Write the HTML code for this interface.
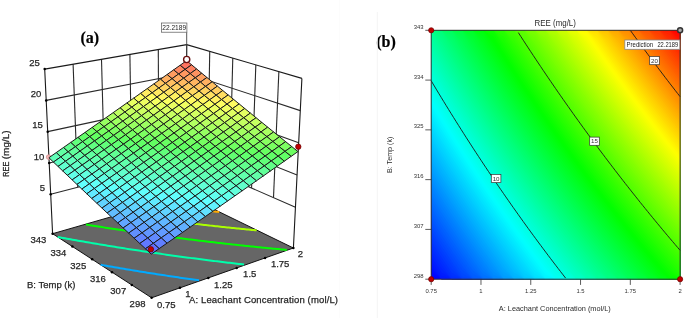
<!DOCTYPE html>
<html><head><meta charset="utf-8"><style>
html,body{margin:0;padding:0;background:#fff;}
body{width:685px;height:318px;overflow:hidden;font-family:"Liberation Sans",sans-serif;}
svg{display:block;filter:blur(0.4px);}
</style></head><body>
<svg width="685" height="318" viewBox="0 0 685 318">
<rect width="685" height="318" fill="#fff"/>
<g stroke="#2a2a2a" stroke-width="1.1" fill="none">
<path d="M77.72,187.21L73.1,64.2"/>
<path d="M207.72,168.85L209.74,51.36"/>
<path d="M104.74,180.21L101.5,59.3"/>
<path d="M229.65,178.46L232.78,58.12"/>
<path d="M131.75,173.22L129.9,54.4"/>
<path d="M251.58,188.07L255.82,64.88"/>
<path d="M158.77,166.23L158.3,49.5"/>
<path d="M273.51,197.69L278.86,71.64"/>
<path d="M50.7,194.2L185.79,159.23L295.44,207.3"/>
<path d="M49.2,162.93L186.02,130.57L297.05,175.08"/>
<path d="M47.7,131.65L186.24,101.92L298.67,142.85"/>
<path d="M46.2,100.38L186.47,73.26L300.28,110.63"/>
</g>
<path d="M44.7,69.1L186.7,44.6L301.9,78.4 M52.6,233.7L44.7,69.1 M185.5,195.43L186.7,44.6 M293.4,248L301.9,78.4" stroke="#1a1a1a" stroke-width="1.1" fill="none"/>
<path d="M52.6,233.7L151.6,297.8L293.4,248L185.5,195.43Z" fill="#666" stroke="#111" stroke-width="1" stroke-linejoin="round"/>
<path d="M100.64,264.79L102.59,265.14L104.53,265.48L106.47,265.82L108.42,266.17L110.36,266.5L112.3,266.84L114.24,267.18L116.18,267.51L118.12,267.84L120.06,268.18L122,268.5L123.94,268.83L125.88,269.16L127.81,269.48L129.75,269.81L131.69,270.13L133.62,270.45L135.56,270.77L137.5,271.08L139.43,271.4L141.36,271.71L143.3,272.02L145.23,272.33L147.16,272.64L149.09,272.95L151.02,273.25L152.95,273.55L154.88,273.86L156.81,274.16L158.74,274.46L160.67,274.75L162.59,275.05L164.52,275.34L166.44,275.63L168.37,275.93L170.29,276.21L172.21,276.5L174.13,276.79L176.05,277.07L177.97,277.36L179.89,277.64L181.81,277.92L183.73,278.19L185.64,278.47L187.56,278.75L189.47,279.02L191.39,279.29L193.3,279.56L195.21,279.83L197.12,280.1L199.03,280.36" stroke="#00aaff" stroke-width="2" fill="none"/>
<path d="M57.67,236.99L59.52,237.33L61.37,237.67L63.22,238L65.07,238.34L66.92,238.67L68.76,239L70.61,239.34L72.46,239.67L74.31,239.99L76.16,240.32L78,240.65L79.85,240.97L81.7,241.29L83.55,241.61L85.39,241.93L87.24,242.25L89.09,242.57L90.93,242.88L92.78,243.2L94.63,243.51L96.47,243.82L98.32,244.13L100.16,244.44L102.01,244.75L103.85,245.05L105.7,245.36L107.54,245.66L109.38,245.96L111.23,246.26L113.07,246.56L114.91,246.86L116.76,247.16L118.6,247.45L120.44,247.75L122.28,248.04L124.12,248.33L125.96,248.62L127.8,248.91L129.64,249.19L131.48,249.48L133.31,249.76L135.15,250.04L136.99,250.33L138.83,250.61L140.66,250.88L142.5,251.16L144.33,251.44L146.17,251.71L148,251.98L149.83,252.25L151.67,252.52L153.5,252.79L155.33,253.06L157.16,253.33L158.99,253.59L160.82,253.85L162.65,254.12L164.48,254.38L166.3,254.64L168.13,254.89L169.96,255.15L171.78,255.41L173.61,255.66L175.43,255.91L177.25,256.16L179.07,256.41L180.9,256.66L182.72,256.91L184.54,257.15L186.36,257.4L188.17,257.64L189.99,257.88L191.81,258.12L193.62,258.36L195.44,258.6L197.25,258.84L199.07,259.07L200.88,259.31L202.69,259.54L204.5,259.77L206.31,260L208.12,260.23L209.93,260.45L211.73,260.68L213.54,260.9L215.34,261.13L217.15,261.35L218.95,261.57L220.75,261.79L222.56,262.01L224.36,262.22L226.15,262.44L227.95,262.65L229.75,262.86L231.55,263.08L233.34,263.29L235.14,263.49L236.93,263.7L238.72,263.91L240.51,264.11L242.3,264.32L244.09,264.52" stroke="#00ffaa" stroke-width="2" fill="none"/>
<path d="M86.06,224.56L87.82,224.85L89.58,225.13L91.34,225.42L93.11,225.7L94.87,225.98L96.63,226.26L98.39,226.54L100.15,226.82L101.91,227.09L103.67,227.37L105.43,227.64L107.19,227.91L108.95,228.19L110.71,228.46L112.47,228.73L114.23,228.99L115.99,229.26L117.74,229.53L119.5,229.79L121.26,230.05L123.02,230.32L124.77,230.58L126.53,230.84L128.28,231.09L130.04,231.35L131.79,231.61L133.55,231.86L135.3,232.12L137.05,232.37L138.81,232.62L140.56,232.87L142.31,233.12L144.06,233.37L145.81,233.61L147.56,233.86L149.31,234.1L151.06,234.34L152.81,234.59L154.56,234.83L156.3,235.07L158.05,235.3L159.8,235.54L161.54,235.78L163.29,236.01L165.03,236.25L166.78,236.48L168.52,236.71L170.26,236.94L172,237.17L173.75,237.4L175.49,237.62L177.23,237.85L178.97,238.07L180.7,238.29L182.44,238.52L184.18,238.74L185.92,238.96L187.65,239.17L189.39,239.39L191.12,239.61L192.85,239.82L194.59,240.04L196.32,240.25L198.05,240.46L199.78,240.67L201.51,240.88L203.24,241.09L204.97,241.29L206.69,241.5L208.42,241.7L210.14,241.91L211.87,242.11L213.59,242.31L215.32,242.51L217.04,242.71L218.76,242.91L220.48,243.1L222.2,243.3L223.92,243.49L225.64,243.69L227.35,243.88L229.07,244.07L230.78,244.26L232.5,244.45L234.21,244.63L235.92,244.82L237.63,245.01L239.34,245.19L241.05,245.37L242.76,245.55L244.47,245.73L246.17,245.91L247.88,246.09L249.58,246.27L251.29,246.45L252.99,246.62L254.69,246.8L256.39,246.97L258.09,247.14L259.79,247.31L261.49,247.48L263.18,247.65L264.88,247.82L266.57,247.98L268.26,248.15L269.96,248.31L271.65,248.48L273.34,248.64L275.03,248.8L276.71,248.96L278.4,249.12L280.08,249.28L281.77,249.43L283.45,249.59L285.13,249.74L286.81,249.9" stroke="#00ff00" stroke-width="2" fill="none"/>
<path d="M120.47,214.25L122.16,214.48L123.84,214.72L125.52,214.96L127.21,215.19L128.89,215.43L130.57,215.66L132.25,215.89L133.93,216.12L135.62,216.35L137.3,216.58L138.98,216.81L140.66,217.04L142.33,217.26L144.01,217.49L145.69,217.71L147.37,217.93L149.05,218.15L150.72,218.37L152.4,218.59L154.07,218.81L155.75,219.03L157.42,219.25L159.1,219.46L160.77,219.68L162.44,219.89L164.12,220.1L165.79,220.31L167.46,220.52L169.13,220.73L170.8,220.94L172.47,221.15L174.14,221.35L175.81,221.56L177.47,221.76L179.14,221.96L180.81,222.17L182.47,222.37L184.14,222.57L185.8,222.77L187.47,222.96L189.13,223.16L190.79,223.36L192.45,223.55L194.12,223.75L195.78,223.94L197.44,224.13L199.09,224.32L200.75,224.51L202.41,224.7L204.07,224.89L205.72,225.07L207.38,225.26L209.03,225.44L210.69,225.63L212.34,225.81L213.99,225.99L215.64,226.17L217.29,226.35L218.94,226.53L220.59,226.71L222.24,226.89L223.89,227.06L225.54,227.24L227.18,227.41L228.83,227.58L230.47,227.76L232.11,227.93L233.76,228.1L235.4,228.26L237.04,228.43L238.68,228.6L240.32,228.77L241.95,228.93L243.59,229.09L245.23,229.26L246.86,229.42L248.5,229.58L250.13,229.74L251.76,229.9L253.4,230.06L255.03,230.22L256.66,230.37" stroke="#aaff00" stroke-width="2" fill="none"/>
<path d="M155.21,204.76L156.82,204.96L158.43,205.16L160.04,205.35L161.65,205.55L163.26,205.74L164.87,205.94L166.48,206.13L168.09,206.32L169.69,206.51L171.3,206.7L172.9,206.89L174.51,207.08L176.11,207.26L177.72,207.45L179.32,207.64L180.92,207.82L182.53,208L184.13,208.19L185.73,208.37L187.33,208.55L188.93,208.73L190.53,208.91L192.13,209.09L193.73,209.26L195.32,209.44L196.92,209.62L198.52,209.79L200.11,209.96L201.71,210.14L203.3,210.31L204.89,210.48L206.49,210.65L208.08,210.82L209.67,210.99L211.26,211.16L212.85,211.32L214.44,211.49L216.03,211.65L217.62,211.82L219.2,211.98" stroke="#ffaa00" stroke-width="2" fill="none"/>
<circle cx="48.6" cy="157.1" r="2.3" fill="#f4b4b4" stroke="#d08888" stroke-width="0.7"/>
<g stroke="#1a1a1a" stroke-width="1.0" stroke-linejoin="round">
<path d="M185.12,69.4L191.6,64.8L186.59,60.65L180.14,65.24Z" fill="#ff7361"/>
<path d="M178.6,74.03L185.12,69.4L180.14,65.24L173.63,69.86Z" fill="#ff8761"/>
<path d="M190.16,73.6L196.65,68.99L191.6,64.8L185.12,69.4Z" fill="#ff8261"/>
<path d="M183.62,78.23L190.16,73.6L185.12,69.4L178.6,74.03Z" fill="#ff9761"/>
<path d="M172.04,78.68L178.6,74.03L173.63,69.86L167.09,74.51Z" fill="#ff9c61"/>
<path d="M195.25,77.83L201.76,73.22L196.65,68.99L190.16,73.6Z" fill="#ff9261"/>
<path d="M165.43,83.36L172.04,78.68L167.09,74.51L160.5,79.18Z" fill="#ffb061"/>
<path d="M177.04,82.89L183.62,78.23L178.6,74.03L172.04,78.68Z" fill="#ffab61"/>
<path d="M188.69,82.47L195.25,77.83L190.16,73.6L183.62,78.23Z" fill="#ffa661"/>
<path d="M200.4,82.1L206.93,77.48L201.76,73.22L195.25,77.83Z" fill="#ffa161"/>
<path d="M170.41,87.58L177.04,82.89L172.04,78.68L165.43,83.36Z" fill="#ffbf61"/>
<path d="M193.82,86.75L200.4,82.1L195.25,77.83L188.69,82.47Z" fill="#ffb561"/>
<path d="M158.78,88.06L165.43,83.36L160.5,79.18L153.87,83.88Z" fill="#ffc561"/>
<path d="M182.09,87.14L188.69,82.47L183.62,78.23L177.04,82.89Z" fill="#ffba61"/>
<path d="M205.6,86.42L212.15,81.79L206.93,77.48L200.4,82.1Z" fill="#ffb061"/>
<path d="M152.09,92.79L158.78,88.06L153.87,83.88L147.2,88.6Z" fill="#ffd961"/>
<path d="M163.74,92.29L170.41,87.58L165.43,83.36L158.78,88.06Z" fill="#ffd461"/>
<path d="M175.45,91.83L182.09,87.14L177.04,82.89L170.41,87.58Z" fill="#ffce61"/>
<path d="M187.2,91.43L193.82,86.75L188.69,82.47L182.09,87.14Z" fill="#ffc961"/>
<path d="M199.01,91.07L205.6,86.42L200.4,82.1L193.82,86.75Z" fill="#ffc461"/>
<path d="M210.86,90.77L217.43,86.13L212.15,81.79L205.6,86.42Z" fill="#ffc061"/>
<path d="M145.35,97.55L152.09,92.79L147.2,88.6L140.48,93.35Z" fill="#ffee61"/>
<path d="M157.03,97.03L163.74,92.29L158.78,88.06L152.09,92.79Z" fill="#ffe861"/>
<path d="M168.76,96.55L175.45,91.83L170.41,87.58L163.74,92.29Z" fill="#ffe261"/>
<path d="M180.54,96.13L187.2,91.43L182.09,87.14L175.45,91.83Z" fill="#ffdd61"/>
<path d="M192.37,95.76L199.01,91.07L193.82,86.75L187.2,91.43Z" fill="#ffd861"/>
<path d="M204.25,95.43L210.86,90.77L205.6,86.42L199.01,91.07Z" fill="#ffd361"/>
<path d="M216.18,95.16L222.77,90.52L217.43,86.13L210.86,90.77Z" fill="#ffcf61"/>
<path d="M150.27,101.8L157.03,97.03L152.09,92.79L145.35,97.55Z" fill="#fffc61"/>
<path d="M173.83,100.86L180.54,96.13L175.45,91.83L168.76,96.55Z" fill="#fff161"/>
<path d="M185.69,100.47L192.37,95.76L187.2,91.43L180.54,96.13Z" fill="#ffec61"/>
<path d="M209.56,99.84L216.18,95.16L210.86,90.77L204.25,95.43Z" fill="#ffe261"/>
<path d="M138.56,102.34L145.35,97.55L140.48,93.35L133.72,98.13Z" fill="#fcff61"/>
<path d="M162.02,101.3L168.76,96.55L163.74,92.29L157.03,97.03Z" fill="#fff661"/>
<path d="M197.6,100.13L204.25,95.43L199.01,91.07L192.37,95.76Z" fill="#ffe761"/>
<path d="M221.56,99.6L228.16,94.94L222.77,90.52L216.18,95.16Z" fill="#ffde61"/>
<path d="M131.73,107.16L138.56,102.34L133.72,98.13L126.91,102.94Z" fill="#e8ff61"/>
<path d="M143.46,106.59L150.27,101.8L145.35,97.55L138.56,102.34Z" fill="#eeff61"/>
<path d="M155.24,106.08L162.02,101.3L157.03,97.03L150.27,101.8Z" fill="#f4ff61"/>
<path d="M167.07,105.62L173.83,100.86L168.76,96.55L162.02,101.3Z" fill="#f9ff61"/>
<path d="M178.96,105.21L185.69,100.47L180.54,96.13L173.83,100.86Z" fill="#ffff61"/>
<path d="M190.89,104.85L197.6,100.13L192.37,95.76L185.69,100.47Z" fill="#fffa61"/>
<path d="M202.88,104.54L209.56,99.84L204.25,95.43L197.6,100.13Z" fill="#fff661"/>
<path d="M214.92,104.28L221.56,99.6L216.18,95.16L209.56,99.84Z" fill="#fff161"/>
<path d="M227,104.08L233.62,99.41L228.16,94.94L221.56,99.6Z" fill="#ffed61"/>
<path d="M136.61,111.42L143.46,106.59L138.56,102.34L131.73,107.16Z" fill="#daff61"/>
<path d="M160.27,110.4L167.07,105.62L162.02,101.3L155.24,106.08Z" fill="#e6ff61"/>
<path d="M196.16,109.27L202.88,104.54L197.6,100.13L190.89,104.85Z" fill="#f5ff61"/>
<path d="M220.34,108.77L227,104.08L221.56,99.6L214.92,104.28Z" fill="#feff61"/>
<path d="M124.86,112L131.73,107.16L126.91,102.94L120.06,107.77Z" fill="#d3ff61"/>
<path d="M148.41,110.89L155.24,106.08L150.27,101.8L143.46,106.59Z" fill="#e0ff61"/>
<path d="M172.18,109.97L178.96,105.21L173.83,100.86L167.07,105.62Z" fill="#ebff61"/>
<path d="M184.15,109.59L190.89,104.85L185.69,100.47L178.96,105.21Z" fill="#f0ff61"/>
<path d="M208.22,108.99L214.92,104.28L209.56,99.84L202.88,104.54Z" fill="#faff61"/>
<path d="M232.51,108.6L239.14,103.92L233.62,99.41L227,104.08Z" fill="#fffc61"/>
<path d="M117.93,116.87L124.86,112L120.06,107.77L113.16,112.63Z" fill="#bfff61"/>
<path d="M129.71,116.27L136.61,111.42L131.73,107.16L124.86,112Z" fill="#c6ff61"/>
<path d="M141.54,115.72L148.41,110.89L143.46,106.59L136.61,111.42Z" fill="#ccff61"/>
<path d="M153.42,115.22L160.27,110.4L155.24,106.08L148.41,110.89Z" fill="#d2ff61"/>
<path d="M165.36,114.77L172.18,109.97L167.07,105.62L160.27,110.4Z" fill="#d8ff61"/>
<path d="M177.35,114.37L184.15,109.59L178.96,105.21L172.18,109.97Z" fill="#ddff61"/>
<path d="M189.39,114.03L196.16,109.27L190.89,104.85L184.15,109.59Z" fill="#e2ff61"/>
<path d="M201.48,113.73L208.22,108.99L202.88,104.54L196.16,109.27Z" fill="#e7ff61"/>
<path d="M213.63,113.49L220.34,108.77L214.92,104.28L208.22,108.99Z" fill="#ebff61"/>
<path d="M225.82,113.3L232.51,108.6L227,104.08L220.34,108.77Z" fill="#efff61"/>
<path d="M238.07,113.16L244.72,108.48L239.14,103.92L232.51,108.6Z" fill="#f3ff61"/>
<path d="M110.96,121.77L117.93,116.87L113.16,112.63L106.21,117.52Z" fill="#abff61"/>
<path d="M122.76,121.15L129.71,116.27L124.86,112L117.93,116.87Z" fill="#b2ff61"/>
<path d="M134.62,120.58L141.54,115.72L136.61,111.42L129.71,116.27Z" fill="#b8ff61"/>
<path d="M146.53,120.06L153.42,115.22L148.41,110.89L141.54,115.72Z" fill="#beff61"/>
<path d="M158.49,119.6L165.36,114.77L160.27,110.4L153.42,115.22Z" fill="#c4ff61"/>
<path d="M170.51,119.18L177.35,114.37L172.18,109.97L165.36,114.77Z" fill="#c9ff61"/>
<path d="M182.58,118.81L189.39,114.03L184.15,109.59L177.35,114.37Z" fill="#cfff61"/>
<path d="M194.7,118.5L201.48,113.73L196.16,109.27L189.39,114.03Z" fill="#d3ff61"/>
<path d="M206.87,118.24L213.63,113.49L208.22,108.99L201.48,113.73Z" fill="#d8ff61"/>
<path d="M219.1,118.03L225.82,113.3L220.34,108.77L213.63,113.49Z" fill="#dcff61"/>
<path d="M231.37,117.87L238.07,113.16L232.51,108.6L225.82,113.3Z" fill="#e0ff61"/>
<path d="M243.7,117.77L250.37,113.08L244.72,108.48L238.07,113.16Z" fill="#e4ff61"/>
<path d="M115.77,126.06L122.76,121.15L117.93,116.87L110.96,121.77Z" fill="#9eff61"/>
<path d="M127.65,125.47L134.62,120.58L129.71,116.27L122.76,121.15Z" fill="#a4ff61"/>
<path d="M139.58,124.94L146.53,120.06L141.54,115.72L134.62,120.58Z" fill="#aaff61"/>
<path d="M151.57,124.45L158.49,119.6L153.42,115.22L146.53,120.06Z" fill="#b0ff61"/>
<path d="M175.71,123.63L182.58,118.81L177.35,114.37L170.51,119.18Z" fill="#bbff61"/>
<path d="M200.06,123.02L206.87,118.24L201.48,113.73L194.7,118.5Z" fill="#c5ff61"/>
<path d="M212.32,122.79L219.1,118.03L213.63,113.49L206.87,118.24Z" fill="#caff61"/>
<path d="M224.63,122.62L231.37,117.87L225.82,113.3L219.1,118.03Z" fill="#ceff61"/>
<path d="M236.98,122.49L243.7,117.77L238.07,113.16L231.37,117.87Z" fill="#d1ff61"/>
<path d="M103.94,126.7L110.96,121.77L106.21,117.52L99.22,122.44Z" fill="#97ff61"/>
<path d="M163.61,124.01L170.51,119.18L165.36,114.77L158.49,119.6Z" fill="#b6ff61"/>
<path d="M187.86,123.3L194.7,118.5L189.39,114.03L182.58,118.81Z" fill="#c0ff61"/>
<path d="M249.39,122.43L256.08,117.72L250.37,113.08L243.7,117.77Z" fill="#d5ff61"/>
<path d="M108.73,131L115.77,126.06L110.96,121.77L103.94,126.7Z" fill="#8aff61"/>
<path d="M120.63,130.4L127.65,125.47L122.76,121.15L115.77,126.06Z" fill="#90ff61"/>
<path d="M132.59,129.84L139.58,124.94L134.62,120.58L127.65,125.47Z" fill="#97ff61"/>
<path d="M144.6,129.33L151.57,124.45L146.53,120.06L139.58,124.94Z" fill="#9dff61"/>
<path d="M156.67,128.88L163.61,124.01L158.49,119.6L151.57,124.45Z" fill="#a3ff61"/>
<path d="M168.8,128.48L175.71,123.63L170.51,119.18L163.61,124.01Z" fill="#a8ff61"/>
<path d="M180.98,128.12L187.86,123.3L182.58,118.81L175.71,123.63Z" fill="#adff61"/>
<path d="M193.21,127.83L200.06,123.02L194.7,118.5L187.86,123.3Z" fill="#b2ff61"/>
<path d="M205.49,127.58L212.32,122.79L206.87,118.24L200.06,123.02Z" fill="#b7ff61"/>
<path d="M217.83,127.39L224.63,122.62L219.1,118.03L212.32,122.79Z" fill="#bbff61"/>
<path d="M230.22,127.25L236.98,122.49L231.37,117.87L224.63,122.62Z" fill="#bfff61"/>
<path d="M242.66,127.16L249.39,122.43L243.7,117.77L236.98,122.49Z" fill="#c3ff61"/>
<path d="M255.15,127.13L261.85,122.41L256.08,117.72L249.39,122.43Z" fill="#c6ff61"/>
<path d="M96.88,131.66L103.94,126.7L99.22,122.44L92.17,127.39Z" fill="#82ff61"/>
<path d="M125.55,134.77L132.59,129.84L127.65,125.47L120.63,130.4Z" fill="#83ff61"/>
<path d="M161.84,133.35L168.8,128.48L163.61,124.01L156.67,128.88Z" fill="#95ff61"/>
<path d="M186.3,132.66L193.21,127.83L187.86,123.3L180.98,128.12Z" fill="#9fff61"/>
<path d="M223.41,132.03L230.22,127.25L224.63,122.62L217.83,127.39Z" fill="#adff61"/>
<path d="M101.63,135.97L108.73,131L103.94,126.7L96.88,131.66Z" fill="#76ff61"/>
<path d="M113.56,135.35L120.63,130.4L115.77,126.06L108.73,131Z" fill="#7cff61"/>
<path d="M137.59,134.25L144.6,129.33L139.58,124.94L132.59,129.84Z" fill="#89ff61"/>
<path d="M149.68,133.77L156.67,128.88L151.57,124.45L144.6,129.33Z" fill="#8fff61"/>
<path d="M174.04,132.98L180.98,128.12L175.71,123.63L168.8,128.48Z" fill="#9aff61"/>
<path d="M198.62,132.4L205.49,127.58L200.06,123.02L193.21,127.83Z" fill="#a4ff61"/>
<path d="M210.98,132.19L217.83,127.39L212.32,122.79L205.49,127.58Z" fill="#a9ff61"/>
<path d="M235.88,131.92L242.66,127.16L236.98,122.49L230.22,127.25Z" fill="#b0ff61"/>
<path d="M248.4,131.87L255.15,127.13L249.39,122.43L242.66,127.16Z" fill="#b4ff61"/>
<path d="M260.98,131.88L267.7,127.15L261.85,122.41L255.15,127.13Z" fill="#b7ff61"/>
<path d="M89.76,136.65L96.88,131.66L92.17,127.39L85.08,132.37Z" fill="#6eff61"/>
<path d="M106.45,140.33L113.56,135.35L108.73,131L101.63,135.97Z" fill="#69ff61"/>
<path d="M118.46,139.73L125.55,134.77L120.63,130.4L113.56,135.35Z" fill="#6fff61"/>
<path d="M130.52,139.19L137.59,134.25L132.59,129.84L125.55,134.77Z" fill="#76ff61"/>
<path d="M142.65,138.7L149.68,133.77L144.6,129.33L137.59,134.25Z" fill="#7cff61"/>
<path d="M154.82,138.26L161.84,133.35L156.67,128.88L149.68,133.77Z" fill="#82ff61"/>
<path d="M167.06,137.87L174.04,132.98L168.8,128.48L161.84,133.35Z" fill="#87ff61"/>
<path d="M179.35,137.53L186.3,132.66L180.98,128.12L174.04,132.98Z" fill="#8dff61"/>
<path d="M191.69,137.25L198.62,132.4L193.21,127.83L186.3,132.66Z" fill="#92ff61"/>
<path d="M204.09,137.02L210.98,132.19L205.49,127.58L198.62,132.4Z" fill="#96ff61"/>
<path d="M216.54,136.84L223.41,132.03L217.83,127.39L210.98,132.19Z" fill="#9aff61"/>
<path d="M229.05,136.72L235.88,131.92L230.22,127.25L223.41,132.03Z" fill="#9eff61"/>
<path d="M241.6,136.65L248.4,131.87L242.66,127.16L235.88,131.92Z" fill="#a2ff61"/>
<path d="M254.21,136.63L260.98,131.88L255.15,127.13L248.4,131.87Z" fill="#a5ff61"/>
<path d="M266.88,136.67L273.61,131.94L267.7,127.15L260.98,131.88Z" fill="#a8ff61"/>
<path d="M82.6,141.67L89.76,136.65L85.08,132.37L77.95,137.37Z" fill="#61ff68"/>
<path d="M94.49,140.97L101.63,135.97L96.88,131.66L89.76,136.65Z" fill="#62ff61"/>
<path d="M111.31,144.73L118.46,139.73L113.56,135.35L106.45,140.33Z" fill="#61ff66"/>
<path d="M123.41,144.17L130.52,139.19L125.55,134.77L118.46,139.73Z" fill="#62ff61"/>
<path d="M135.56,143.65L142.65,138.7L137.59,134.25L130.52,139.19Z" fill="#69ff61"/>
<path d="M147.76,143.2L154.82,138.26L149.68,133.77L142.65,138.7Z" fill="#6fff61"/>
<path d="M160.02,142.79L167.06,137.87L161.84,133.35L154.82,138.26Z" fill="#74ff61"/>
<path d="M172.34,142.43L179.35,137.53L174.04,132.98L167.06,137.87Z" fill="#7aff61"/>
<path d="M184.72,142.13L191.69,137.25L186.3,132.66L179.35,137.53Z" fill="#7fff61"/>
<path d="M197.14,141.88L204.09,137.02L198.62,132.4L191.69,137.25Z" fill="#84ff61"/>
<path d="M209.63,141.69L216.54,136.84L210.98,132.19L204.09,137.02Z" fill="#88ff61"/>
<path d="M222.16,141.54L229.05,136.72L223.41,132.03L216.54,136.84Z" fill="#8cff61"/>
<path d="M234.75,141.46L241.6,136.65L235.88,131.92L229.05,136.72Z" fill="#90ff61"/>
<path d="M247.4,141.42L254.21,136.63L248.4,131.87L241.6,136.65Z" fill="#93ff61"/>
<path d="M260.09,141.44L266.88,136.67L260.98,131.88L254.21,136.63Z" fill="#97ff61"/>
<path d="M87.3,146L94.49,140.97L89.76,136.65L82.6,141.67Z" fill="#61ff74"/>
<path d="M99.28,145.34L106.45,140.33L101.63,135.97L94.49,140.97Z" fill="#61ff6d"/>
<path d="M272.84,141.52L279.59,136.77L273.61,131.94L266.88,136.67Z" fill="#99ff61"/>
<path d="M75.38,146.71L82.6,141.67L77.95,137.37L70.76,142.41Z" fill="#61ff7c"/>
<path d="M104.12,149.75L111.31,144.73L106.45,140.33L99.28,145.34Z" fill="#61ff7a"/>
<path d="M116.24,149.17L123.41,144.17L118.46,139.73L111.31,144.73Z" fill="#61ff73"/>
<path d="M140.65,148.16L147.76,143.2L142.65,138.7L135.56,143.65Z" fill="#61ff66"/>
<path d="M152.94,147.74L160.02,142.79L154.82,138.26L147.76,143.2Z" fill="#62ff61"/>
<path d="M165.29,147.36L172.34,142.43L167.06,137.87L160.02,142.79Z" fill="#67ff61"/>
<path d="M177.69,147.04L184.72,142.13L179.35,137.53L172.34,142.43Z" fill="#6cff61"/>
<path d="M190.15,146.78L197.14,141.88L191.69,137.25L184.72,142.13Z" fill="#71ff61"/>
<path d="M202.66,146.56L209.63,141.69L204.09,137.02L197.14,141.88Z" fill="#76ff61"/>
<path d="M227.85,146.29L234.75,141.46L229.05,136.72L222.16,141.54Z" fill="#7eff61"/>
<path d="M240.53,146.24L247.4,141.42L241.6,136.65L234.75,141.46Z" fill="#82ff61"/>
<path d="M253.26,146.24L260.09,141.44L254.21,136.63L247.4,141.42Z" fill="#85ff61"/>
<path d="M266.04,146.3L272.84,141.52L266.88,136.67L260.09,141.44Z" fill="#88ff61"/>
<path d="M278.88,146.42L285.64,141.65L279.59,136.77L272.84,141.52Z" fill="#8bff61"/>
<path d="M68.11,151.79L75.38,146.71L70.76,142.41L63.52,147.48Z" fill="#61ff90"/>
<path d="M80.06,151.06L87.3,146L82.6,141.67L75.38,146.71Z" fill="#61ff88"/>
<path d="M92.06,150.38L99.28,145.34L94.49,140.97L87.3,146Z" fill="#61ff81"/>
<path d="M128.41,148.64L135.56,143.65L130.52,139.19L123.41,144.17Z" fill="#61ff6c"/>
<path d="M215.23,146.4L222.16,141.54L216.54,136.84L209.63,141.69Z" fill="#7aff61"/>
<path d="M109.02,154.21L116.24,149.17L111.31,144.73L104.12,149.75Z" fill="#61ff86"/>
<path d="M121.22,153.66L128.41,148.64L123.41,144.17L116.24,149.17Z" fill="#61ff7f"/>
<path d="M133.48,153.16L140.65,148.16L135.56,143.65L128.41,148.64Z" fill="#61ff79"/>
<path d="M145.8,152.72L152.94,147.74L147.76,143.2L140.65,148.16Z" fill="#61ff73"/>
<path d="M158.18,152.33L165.29,147.36L160.02,142.79L152.94,147.74Z" fill="#61ff6d"/>
<path d="M170.61,151.99L177.69,147.04L172.34,142.43L165.29,147.36Z" fill="#61ff68"/>
<path d="M183.1,151.7L190.15,146.78L184.72,142.13L177.69,147.04Z" fill="#61ff63"/>
<path d="M195.64,151.47L202.66,146.56L197.14,141.88L190.15,146.78Z" fill="#64ff61"/>
<path d="M208.24,151.29L215.23,146.4L209.63,141.69L202.66,146.56Z" fill="#68ff61"/>
<path d="M220.9,151.16L227.85,146.29L222.16,141.54L215.23,146.4Z" fill="#6cff61"/>
<path d="M233.61,151.09L240.53,146.24L234.75,141.46L227.85,146.29Z" fill="#70ff61"/>
<path d="M246.37,151.08L253.26,146.24L247.4,141.42L240.53,146.24Z" fill="#73ff61"/>
<path d="M259.19,151.12L266.04,146.3L260.09,141.44L253.26,146.24Z" fill="#77ff61"/>
<path d="M272.06,151.21L278.88,146.42L272.84,141.52L266.04,146.3Z" fill="#79ff61"/>
<path d="M284.99,151.36L291.77,146.59L285.64,141.65L278.88,146.42Z" fill="#7cff61"/>
<path d="M60.8,156.91L68.11,151.79L63.52,147.48L56.23,152.58Z" fill="#61ffa4"/>
<path d="M72.76,156.16L80.06,151.06L75.38,146.71L68.11,151.79Z" fill="#61ff9c"/>
<path d="M84.79,155.46L92.06,150.38L87.3,146L80.06,151.06Z" fill="#61ff94"/>
<path d="M96.88,154.81L104.12,149.75L99.28,145.34L92.06,150.38Z" fill="#61ff8d"/>
<path d="M151.02,157.32L158.18,152.33L152.94,147.74L145.8,152.72Z" fill="#61ff80"/>
<path d="M188.57,156.41L195.64,151.47L190.15,146.78L183.1,151.7Z" fill="#61ff70"/>
<path d="M252.29,155.96L259.19,151.12L253.26,146.24L246.37,151.08Z" fill="#65ff61"/>
<path d="M278.16,156.17L284.99,151.36L278.88,146.42L272.06,151.21Z" fill="#6bff61"/>
<path d="M65.42,161.28L72.76,156.16L68.11,151.79L60.8,156.91Z" fill="#61ffb0"/>
<path d="M89.58,159.89L96.88,154.81L92.06,150.38L84.79,155.46Z" fill="#61ffa1"/>
<path d="M101.75,159.28L109.02,154.21L104.12,149.75L96.88,154.81Z" fill="#61ff9a"/>
<path d="M113.98,158.71L121.22,153.66L116.24,149.17L109.02,154.21Z" fill="#61ff93"/>
<path d="M126.27,158.2L133.48,153.16L128.41,148.64L121.22,153.66Z" fill="#61ff8c"/>
<path d="M138.61,157.73L145.8,152.72L140.65,148.16L133.48,153.16Z" fill="#61ff86"/>
<path d="M163.48,156.96L170.61,151.99L165.29,147.36L158.18,152.33Z" fill="#61ff7b"/>
<path d="M176,156.66L183.1,151.7L177.69,147.04L170.61,151.99Z" fill="#61ff75"/>
<path d="M201.21,156.21L208.24,151.29L202.66,146.56L195.64,151.47Z" fill="#61ff6c"/>
<path d="M213.89,156.07L220.9,151.16L215.23,146.4L208.24,151.29Z" fill="#61ff67"/>
<path d="M226.64,155.98L233.61,151.09L227.85,146.29L220.9,151.16Z" fill="#61ff64"/>
<path d="M239.44,155.94L246.37,151.08L240.53,146.24L233.61,151.09Z" fill="#62ff61"/>
<path d="M265.2,156.04L272.06,151.21L266.04,146.3L259.19,151.12Z" fill="#68ff61"/>
<path d="M291.17,156.36L297.96,151.57L291.77,146.59L284.99,151.36Z" fill="#6dff61"/>
<path d="M53.43,162.05L60.8,156.91L56.23,152.58L48.89,157.7Z" fill="#61ffb8"/>
<path d="M77.47,160.56L84.79,155.46L80.06,151.06L72.76,156.16Z" fill="#61ffa8"/>
<path d="M119,163.26L126.27,158.2L121.22,153.66L113.98,158.71Z" fill="#61ff9f"/>
<path d="M143.8,162.35L151.02,157.32L145.8,152.72L138.61,157.73Z" fill="#61ff93"/>
<path d="M156.29,161.97L163.48,156.96L158.18,152.33L151.02,157.32Z" fill="#61ff8d"/>
<path d="M168.84,161.65L176,156.66L170.61,151.99L163.48,156.96Z" fill="#61ff88"/>
<path d="M181.45,161.38L188.57,156.41L183.1,151.7L176,156.66Z" fill="#61ff83"/>
<path d="M194.11,161.16L201.21,156.21L195.64,151.47L188.57,156.41Z" fill="#61ff7e"/>
<path d="M219.61,160.89L226.64,155.98L220.9,151.16L213.89,156.07Z" fill="#61ff75"/>
<path d="M245.33,160.84L252.29,155.96L246.37,151.08L239.44,155.94Z" fill="#61ff6e"/>
<path d="M258.28,160.9L265.2,156.04L259.19,151.12L252.29,155.96Z" fill="#61ff6b"/>
<path d="M271.27,161.01L278.16,156.17L272.06,151.21L265.2,156.04Z" fill="#61ff68"/>
<path d="M284.33,161.18L291.17,156.36L284.99,151.36L278.16,156.17Z" fill="#61ff65"/>
<path d="M58.02,166.44L65.42,161.28L60.8,156.91L53.43,162.05Z" fill="#61ffc4"/>
<path d="M70.1,165.7L77.47,160.56L72.76,156.16L65.42,161.28Z" fill="#61ffbc"/>
<path d="M82.23,165.01L89.58,159.89L84.79,155.46L77.47,160.56Z" fill="#61ffb4"/>
<path d="M94.43,164.38L101.75,159.28L96.88,154.81L89.58,159.89Z" fill="#61ffad"/>
<path d="M106.68,163.79L113.98,158.71L109.02,154.21L101.75,159.28Z" fill="#61ffa6"/>
<path d="M131.37,162.78L138.61,157.73L133.48,153.16L126.27,158.2Z" fill="#61ff99"/>
<path d="M206.83,161L213.89,156.07L208.24,151.29L201.21,156.21Z" fill="#61ff79"/>
<path d="M232.45,160.84L239.44,155.94L233.61,151.09L226.64,155.98Z" fill="#61ff71"/>
<path d="M111.67,168.36L119,163.26L113.98,158.71L106.68,163.79Z" fill="#61ffb2"/>
<path d="M136.53,167.41L143.8,162.35L138.61,157.73L131.37,162.78Z" fill="#61ffa5"/>
<path d="M161.64,166.67L168.84,161.65L163.48,156.96L156.29,161.97Z" fill="#61ff9a"/>
<path d="M174.27,166.38L181.45,161.38L176,156.66L168.84,161.65Z" fill="#61ff95"/>
<path d="M199.72,165.97L206.83,161L201.21,156.21L194.11,161.16Z" fill="#61ff8b"/>
<path d="M225.4,165.77L232.45,160.84L226.64,155.98L219.61,160.89Z" fill="#61ff83"/>
<path d="M264.34,165.89L271.27,161.01L265.2,156.04L258.28,160.9Z" fill="#61ff79"/>
<path d="M74.83,170.16L82.23,165.01L77.47,160.56L70.1,165.7Z" fill="#61ffc8"/>
<path d="M124.07,167.86L131.37,162.78L126.27,158.2L119,163.26Z" fill="#61ffac"/>
<path d="M149.06,167.01L156.29,161.97L151.02,157.32L143.8,162.35Z" fill="#61ffa0"/>
<path d="M186.97,166.15L194.11,161.16L188.57,156.41L181.45,161.38Z" fill="#61ff90"/>
<path d="M212.53,165.84L219.61,160.89L213.89,156.07L206.83,161Z" fill="#61ff87"/>
<path d="M238.32,165.75L245.33,160.84L239.44,155.94L232.45,160.84Z" fill="#61ff7f"/>
<path d="M251.3,165.79L258.28,160.9L252.29,155.96L245.33,160.84Z" fill="#61ff7c"/>
<path d="M277.43,166.04L284.33,161.18L278.16,156.17L271.27,161.01Z" fill="#61ff76"/>
<path d="M62.67,170.87L70.1,165.7L65.42,161.28L58.02,166.44Z" fill="#61ffcf"/>
<path d="M87.05,169.51L94.43,164.38L89.58,159.89L82.23,165.01Z" fill="#61ffc0"/>
<path d="M99.33,168.91L106.68,163.79L101.75,159.28L94.43,164.38Z" fill="#61ffb9"/>
<path d="M104.29,173.48L111.67,168.36L106.68,163.79L99.33,168.91Z" fill="#61ffc5"/>
<path d="M116.72,172.97L124.07,167.86L119,163.26L111.67,168.36Z" fill="#61ffbe"/>
<path d="M129.21,172.5L136.53,167.41L131.37,162.78L124.07,167.86Z" fill="#61ffb8"/>
<path d="M141.76,172.09L149.06,167.01L143.8,162.35L136.53,167.41Z" fill="#61ffb2"/>
<path d="M154.37,171.73L161.64,166.67L156.29,161.97L149.06,167.01Z" fill="#61ffac"/>
<path d="M167.04,171.42L174.27,166.38L168.84,161.65L161.64,166.67Z" fill="#61ffa7"/>
<path d="M179.77,171.17L186.97,166.15L181.45,161.38L174.27,166.38Z" fill="#61ffa2"/>
<path d="M192.56,170.97L199.72,165.97L194.11,161.16L186.97,166.15Z" fill="#61ff9d"/>
<path d="M205.4,170.82L212.53,165.84L206.83,161L199.72,165.97Z" fill="#61ff98"/>
<path d="M218.3,170.73L225.4,165.77L219.61,160.89L212.53,165.84Z" fill="#61ff94"/>
<path d="M231.26,170.7L238.32,165.75L232.45,160.84L225.4,165.77Z" fill="#61ff90"/>
<path d="M257.35,170.8L264.34,165.89L258.28,160.9L251.3,165.79Z" fill="#61ff8a"/>
<path d="M270.47,170.93L277.43,166.04L271.27,161.01L264.34,165.89Z" fill="#61ff87"/>
<path d="M67.37,175.35L74.83,170.16L70.1,165.7L62.67,170.87Z" fill="#61ffdb"/>
<path d="M79.62,174.68L87.05,169.51L82.23,165.01L74.83,170.16Z" fill="#61ffd3"/>
<path d="M244.27,170.72L251.3,165.79L245.33,160.84L238.32,165.75Z" fill="#61ff8d"/>
<path d="M91.93,174.05L99.33,168.91L94.43,164.38L87.05,169.51Z" fill="#61ffcc"/>
<path d="M109.32,178.11L116.72,172.97L111.67,168.36L104.29,173.48Z" fill="#61ffd1"/>
<path d="M121.84,177.63L129.21,172.5L124.07,167.86L116.72,172.97Z" fill="#61ffcb"/>
<path d="M134.42,177.19L141.76,172.09L136.53,167.41L129.21,172.5Z" fill="#61ffc4"/>
<path d="M147.06,176.82L154.37,171.73L149.06,167.01L141.76,172.09Z" fill="#61ffbe"/>
<path d="M159.76,176.49L167.04,171.42L161.64,166.67L154.37,171.73Z" fill="#61ffb9"/>
<path d="M172.52,176.22L179.77,171.17L174.27,166.38L167.04,171.42Z" fill="#61ffb4"/>
<path d="M185.33,176L192.56,170.97L186.97,166.15L179.77,171.17Z" fill="#61ffaf"/>
<path d="M198.21,175.84L205.4,170.82L199.72,165.97L192.56,170.97Z" fill="#61ffaa"/>
<path d="M211.15,175.73L218.3,170.73L212.53,165.84L205.4,170.82Z" fill="#61ffa6"/>
<path d="M224.14,175.68L231.26,170.7L225.4,165.77L218.3,170.73Z" fill="#61ffa2"/>
<path d="M237.19,175.68L244.27,170.72L238.32,165.75L231.26,170.7Z" fill="#61ff9e"/>
<path d="M250.3,175.74L257.35,170.8L251.3,165.79L244.27,170.72Z" fill="#61ff9b"/>
<path d="M263.46,175.86L270.47,170.93L264.34,165.89L257.35,170.8Z" fill="#61ff98"/>
<path d="M72.13,179.87L79.62,174.68L74.83,170.16L67.37,175.35Z" fill="#61ffe7"/>
<path d="M84.47,179.23L91.93,174.05L87.05,169.51L79.62,174.68Z" fill="#61ffdf"/>
<path d="M96.86,178.65L104.29,173.48L99.33,168.91L91.93,174.05Z" fill="#61ffd8"/>
<path d="M114.4,182.79L121.84,177.63L116.72,172.97L109.32,178.11Z" fill="#61ffdd"/>
<path d="M216.97,180.69L224.14,175.68L218.3,170.73L211.15,175.73Z" fill="#61ffb3"/>
<path d="M243.2,180.72L250.3,175.74L244.27,170.72L237.19,175.68Z" fill="#61ffac"/>
<path d="M89.37,183.84L96.86,178.65L91.93,174.05L84.47,179.23Z" fill="#61ffeb"/>
<path d="M101.86,183.29L109.32,178.11L104.29,173.48L96.86,178.65Z" fill="#61ffe4"/>
<path d="M127.01,182.34L134.42,177.19L129.21,172.5L121.84,177.63Z" fill="#61ffd7"/>
<path d="M139.68,181.94L147.06,176.82L141.76,172.09L134.42,177.19Z" fill="#61ffd1"/>
<path d="M152.41,181.6L159.76,176.49L154.37,171.73L147.06,176.82Z" fill="#61ffcb"/>
<path d="M165.2,181.31L172.52,176.22L167.04,171.42L159.76,176.49Z" fill="#61ffc5"/>
<path d="M178.06,181.07L185.33,176L179.77,171.17L172.52,176.22Z" fill="#61ffc0"/>
<path d="M190.97,180.89L198.21,175.84L192.56,170.97L185.33,176Z" fill="#61ffbc"/>
<path d="M203.94,180.76L211.15,175.73L205.4,170.82L198.21,175.84Z" fill="#61ffb7"/>
<path d="M230.05,180.68L237.19,175.68L231.26,170.7L224.14,175.68Z" fill="#61ffaf"/>
<path d="M256.4,180.82L263.46,175.86L257.35,170.8L250.3,175.74Z" fill="#61ffa8"/>
<path d="M76.95,184.45L84.47,179.23L79.62,174.68L72.13,179.87Z" fill="#61fff2"/>
<path d="M106.92,187.98L114.4,182.79L109.32,178.11L101.86,183.29Z" fill="#61fff0"/>
<path d="M119.55,187.51L127.01,182.34L121.84,177.63L114.4,182.79Z" fill="#61ffe9"/>
<path d="M132.25,187.1L139.68,181.94L134.42,177.19L127.01,182.34Z" fill="#61ffe3"/>
<path d="M145.02,186.73L152.41,181.6L147.06,176.82L139.68,181.94Z" fill="#61ffdd"/>
<path d="M183.67,185.97L190.97,180.89L185.33,176L178.06,181.07Z" fill="#61ffcd"/>
<path d="M196.67,185.83L203.94,180.76L198.21,175.84L190.97,180.89Z" fill="#61ffc8"/>
<path d="M209.73,185.74L216.97,180.69L211.15,175.73L203.94,180.76Z" fill="#61ffc4"/>
<path d="M222.86,185.71L230.05,180.68L224.14,175.68L216.97,180.69Z" fill="#61ffc0"/>
<path d="M236.04,185.73L243.2,180.72L237.19,175.68L230.05,180.68Z" fill="#61ffbc"/>
<path d="M249.28,185.81L256.4,180.82L250.3,175.74L243.2,180.72Z" fill="#61ffb9"/>
<path d="M81.83,189.07L89.37,183.84L84.47,179.23L76.95,184.45Z" fill="#61fffe"/>
<path d="M94.34,188.5L101.86,183.29L96.86,178.65L89.37,183.84Z" fill="#61fff7"/>
<path d="M157.84,186.43L165.2,181.31L159.76,176.49L152.41,181.6Z" fill="#61ffd7"/>
<path d="M170.72,186.17L178.06,181.07L172.52,176.22L165.2,181.31Z" fill="#61ffd2"/>
<path d="M137.56,191.91L145.02,186.73L139.68,181.94L132.25,187.1Z" fill="#61ffef"/>
<path d="M189.35,190.93L196.67,185.83L190.97,180.89L183.67,185.97Z" fill="#61ffda"/>
<path d="M228.82,190.78L236.04,185.73L230.05,180.68L222.86,185.71Z" fill="#61ffcd"/>
<path d="M99.37,193.21L106.92,187.98L101.86,183.29L94.34,188.5Z" fill="#61fcff"/>
<path d="M112.04,192.72L119.55,187.51L114.4,182.79L106.92,187.98Z" fill="#61fffb"/>
<path d="M124.77,192.29L132.25,187.1L127.01,182.34L119.55,187.51Z" fill="#61fff5"/>
<path d="M150.41,191.58L157.84,186.43L152.41,181.6L145.02,186.73Z" fill="#61ffe9"/>
<path d="M163.33,191.31L170.72,186.17L165.2,181.31L157.84,186.43Z" fill="#61ffe4"/>
<path d="M176.31,191.09L183.67,185.97L178.06,181.07L170.72,186.17Z" fill="#61ffdf"/>
<path d="M202.45,190.82L209.73,185.74L203.94,180.76L196.67,185.83Z" fill="#61ffd5"/>
<path d="M215.6,190.77L222.86,185.71L216.97,180.69L209.73,185.74Z" fill="#61ffd1"/>
<path d="M242.1,190.84L249.28,185.81L243.2,180.72L236.04,185.73Z" fill="#61ffca"/>
<path d="M86.77,193.75L94.34,188.5L89.37,183.84L81.83,189.07Z" fill="#61f5ff"/>
<path d="M104.46,197.97L112.04,192.72L106.92,187.98L99.37,193.21Z" fill="#61f0ff"/>
<path d="M117.22,197.52L124.77,192.29L119.55,187.51L112.04,192.72Z" fill="#61f7ff"/>
<path d="M130.05,197.12L137.56,191.91L132.25,187.1L124.77,192.29Z" fill="#61fdff"/>
<path d="M142.93,196.77L150.41,191.58L145.02,186.73L137.56,191.91Z" fill="#61fffb"/>
<path d="M155.88,196.48L163.33,191.31L157.84,186.43L150.41,191.58Z" fill="#61fff5"/>
<path d="M168.89,196.25L176.31,191.09L170.72,186.17L163.33,191.31Z" fill="#61fff0"/>
<path d="M181.96,196.07L189.35,190.93L183.67,185.97L176.31,191.09Z" fill="#61ffeb"/>
<path d="M195.1,195.94L202.45,190.82L196.67,185.83L189.35,190.93Z" fill="#61ffe6"/>
<path d="M208.29,195.87L215.6,190.77L209.73,185.74L202.45,190.82Z" fill="#61ffe2"/>
<path d="M221.55,195.86L228.82,190.78L222.86,185.71L215.6,190.77Z" fill="#61ffde"/>
<path d="M234.86,195.9L242.1,190.84L236.04,185.73L228.82,190.78Z" fill="#61ffda"/>
<path d="M91.77,198.47L99.37,193.21L94.34,188.5L86.77,193.75Z" fill="#61e9ff"/>
<path d="M109.62,202.78L117.22,197.52L112.04,192.72L104.46,197.97Z" fill="#61e5ff"/>
<path d="M122.48,202.36L130.05,197.12L124.77,192.29L117.22,197.52Z" fill="#61ebff"/>
<path d="M135.39,202L142.93,196.77L137.56,191.91L130.05,197.12Z" fill="#61f1ff"/>
<path d="M148.37,201.69L155.88,196.48L150.41,191.58L142.93,196.77Z" fill="#61f7ff"/>
<path d="M161.42,201.44L168.89,196.25L163.33,191.31L155.88,196.48Z" fill="#61fcff"/>
<path d="M174.52,201.24L181.96,196.07L176.31,191.09L168.89,196.25Z" fill="#61fffc"/>
<path d="M187.69,201.1L195.1,195.94L189.35,190.93L181.96,196.07Z" fill="#61fff8"/>
<path d="M200.92,201.01L208.29,195.87L202.45,190.82L195.1,195.94Z" fill="#61fff3"/>
<path d="M214.22,200.98L221.55,195.86L215.6,190.77L208.29,195.87Z" fill="#61ffef"/>
<path d="M227.57,201.01L234.86,195.9L228.82,190.78L221.55,195.86Z" fill="#61ffeb"/>
<path d="M96.83,203.25L104.46,197.97L99.37,193.21L91.77,198.47Z" fill="#61deff"/>
<path d="M101.96,208.08L109.62,202.78L104.46,197.97L96.83,203.25Z" fill="#61d3ff"/>
<path d="M114.84,207.65L122.48,202.36L117.22,197.52L109.62,202.78Z" fill="#61d9ff"/>
<path d="M153.88,206.67L161.42,201.44L155.88,196.48L148.37,201.69Z" fill="#61ebff"/>
<path d="M167.02,206.45L174.52,201.24L168.89,196.25L161.42,201.44Z" fill="#61f0ff"/>
<path d="M206.82,206.14L214.22,200.98L208.29,195.87L200.92,201.01Z" fill="#61feff"/>
<path d="M220.21,206.14L227.57,201.01L221.55,195.86L214.22,200.98Z" fill="#61fffb"/>
<path d="M127.79,207.26L135.39,202L130.05,197.12L122.48,202.36Z" fill="#61dfff"/>
<path d="M140.81,206.94L148.37,201.69L142.93,196.77L135.39,202Z" fill="#61e5ff"/>
<path d="M180.23,206.29L187.69,201.1L181.96,196.07L174.52,201.24Z" fill="#61f5ff"/>
<path d="M193.5,206.18L200.92,201.01L195.1,195.94L187.69,201.1Z" fill="#61faff"/>
<path d="M107.15,212.96L114.84,207.65L109.62,202.78L101.96,208.08Z" fill="#61c7ff"/>
<path d="M133.18,212.22L140.81,206.94L135.39,202L127.79,207.26Z" fill="#61d4ff"/>
<path d="M146.29,211.93L153.88,206.67L148.37,201.69L140.81,206.94Z" fill="#61daff"/>
<path d="M159.46,211.7L167.02,206.45L161.42,201.44L153.88,206.67Z" fill="#61dfff"/>
<path d="M172.7,211.52L180.23,206.29L174.52,201.24L167.02,206.45Z" fill="#61e4ff"/>
<path d="M186.01,211.4L193.5,206.18L187.69,201.1L180.23,206.29Z" fill="#61e9ff"/>
<path d="M212.8,211.32L220.21,206.14L214.22,200.98L206.82,206.14Z" fill="#61f2ff"/>
<path d="M120.13,212.57L127.79,207.26L122.48,202.36L114.84,207.65Z" fill="#61ceff"/>
<path d="M199.37,211.33L206.82,206.14L200.92,201.01L193.5,206.18Z" fill="#61eeff"/>
<path d="M112.41,217.9L120.13,212.57L114.84,207.65L107.15,212.96Z" fill="#61bcff"/>
<path d="M125.49,217.54L133.18,212.22L127.79,207.26L120.13,212.57Z" fill="#61c2ff"/>
<path d="M138.64,217.23L146.29,211.93L140.81,206.94L133.18,212.22Z" fill="#61c8ff"/>
<path d="M151.84,216.98L159.46,211.7L153.88,206.67L146.29,211.93Z" fill="#61ceff"/>
<path d="M165.12,216.79L172.7,211.52L167.02,206.45L159.46,211.7Z" fill="#61d3ff"/>
<path d="M178.46,216.64L186.01,211.4L180.23,206.29L172.7,211.52Z" fill="#61d8ff"/>
<path d="M191.86,216.56L199.37,211.33L193.5,206.18L186.01,211.4Z" fill="#61ddff"/>
<path d="M205.33,216.53L212.8,211.32L206.82,206.14L199.37,211.33Z" fill="#61e1ff"/>
<path d="M144.16,222.3L151.84,216.98L146.29,211.93L138.64,217.23Z" fill="#61bdff"/>
<path d="M170.85,221.93L178.46,216.64L172.7,211.52L165.12,216.79Z" fill="#61c7ff"/>
<path d="M117.74,222.9L125.49,217.54L120.13,212.57L112.41,217.9Z" fill="#61b1ff"/>
<path d="M130.92,222.57L138.64,217.23L133.18,212.22L125.49,217.54Z" fill="#61b7ff"/>
<path d="M157.47,222.09L165.12,216.79L159.46,211.7L151.84,216.98Z" fill="#61c2ff"/>
<path d="M184.28,221.83L191.86,216.56L186.01,211.4L178.46,216.64Z" fill="#61ccff"/>
<path d="M197.79,221.78L205.33,216.53L199.37,211.33L191.86,216.56Z" fill="#61d1ff"/>
<path d="M123.14,227.95L130.92,222.57L125.49,217.54L117.74,222.9Z" fill="#61a6ff"/>
<path d="M136.42,227.66L144.16,222.3L138.64,217.23L130.92,222.57Z" fill="#61acff"/>
<path d="M149.76,227.43L157.47,222.09L151.84,216.98L144.16,222.3Z" fill="#61b1ff"/>
<path d="M163.17,227.26L170.85,221.93L165.12,216.79L157.47,222.09Z" fill="#61b7ff"/>
<path d="M176.65,227.14L184.28,221.83L178.46,216.64L170.85,221.93Z" fill="#61bcff"/>
<path d="M190.19,227.07L197.79,221.78L191.86,216.56L184.28,221.83Z" fill="#61c0ff"/>
<path d="M128.61,233.06L136.42,227.66L130.92,222.57L123.14,227.95Z" fill="#619bff"/>
<path d="M141.99,232.81L149.76,227.43L144.16,222.3L136.42,227.66Z" fill="#61a0ff"/>
<path d="M155.43,232.62L163.17,227.26L157.47,222.09L149.76,227.43Z" fill="#61a6ff"/>
<path d="M168.95,232.48L176.65,227.14L170.85,221.93L163.17,227.26Z" fill="#61abff"/>
<path d="M182.53,232.4L190.19,227.07L184.28,221.83L176.65,227.14Z" fill="#61b0ff"/>
<path d="M147.63,238.02L155.43,232.62L149.76,227.43L141.99,232.81Z" fill="#6195ff"/>
<path d="M161.18,237.87L168.95,232.48L163.17,227.26L155.43,232.62Z" fill="#619bff"/>
<path d="M134.15,238.24L141.99,232.81L136.42,227.66L128.61,233.06Z" fill="#618fff"/>
<path d="M174.8,237.77L182.53,232.4L176.65,227.14L168.95,232.48Z" fill="#61a0ff"/>
<path d="M139.77,243.47L147.63,238.02L141.99,232.81L134.15,238.24Z" fill="#6184ff"/>
<path d="M153.35,243.3L161.18,237.87L155.43,232.62L147.63,238.02Z" fill="#618aff"/>
<path d="M167.01,243.18L174.8,237.77L168.95,232.48L161.18,237.87Z" fill="#618fff"/>
<path d="M145.46,248.76L153.35,243.3L147.63,238.02L139.77,243.47Z" fill="#6179ff"/>
<path d="M159.15,248.63L167.01,243.18L161.18,237.87L153.35,243.3Z" fill="#617fff"/>
<path d="M151.22,254.12L159.15,248.63L153.35,243.3L145.46,248.76Z" fill="#616eff"/>
</g>
<g fill="#000"><circle cx="50.7" cy="194.2" r="1.25"/><circle cx="49.2" cy="162.93" r="1.25"/><circle cx="47.7" cy="131.65" r="1.25"/><circle cx="46.2" cy="100.38" r="1.25"/><circle cx="44.7" cy="69.1" r="1.25"/><circle cx="151.6" cy="297.8" r="1.25"/><circle cx="131.8" cy="284.98" r="1.25"/><circle cx="112" cy="272.16" r="1.25"/><circle cx="92.2" cy="259.34" r="1.25"/><circle cx="72.4" cy="246.52" r="1.25"/><circle cx="52.6" cy="233.7" r="1.25"/><circle cx="179.96" cy="287.84" r="1.25"/><circle cx="208.32" cy="277.88" r="1.25"/><circle cx="236.68" cy="267.92" r="1.25"/><circle cx="265.04" cy="257.96" r="1.25"/><circle cx="293.4" cy="248" r="1.25"/></g>
<circle cx="298.3" cy="146.7" r="2.7" fill="#c00000" stroke="#600" stroke-width="0.7"/>
<circle cx="150.9" cy="249.3" r="2.7" fill="#c00000" stroke="#600" stroke-width="0.7"/>
<path d="M186.7,32.2V56" stroke="#444" stroke-width="0.9"/>
<circle cx="186.7" cy="59.5" r="3.1" fill="#fff" stroke="#6a1010" stroke-width="1.4"/>
<rect x="161.5" y="23" width="25.4" height="9.2" fill="#fff" stroke="#555" stroke-width="0.7"/>
<text x="174.2" y="30.1" font-size="6.6" text-anchor="middle" fill="#222" font-family="Liberation Sans, sans-serif">22.2189</text>
<g font-family="Liberation Sans, sans-serif" font-size="9.5" fill="#262626" stroke="#262626" stroke-width="0.25">
<text x="39.8" y="66.2" text-anchor="end">25</text>
<text x="41.3" y="97.2" text-anchor="end">20</text>
<text x="42.8" y="128.4" text-anchor="end">15</text>
<text x="44.3" y="159.6" text-anchor="end">10</text>
<text x="45" y="191.3" text-anchor="end">5</text>
<text x="38.45" y="243" text-anchor="middle">343</text>
<text x="58.35" y="256.2" text-anchor="middle">334</text>
<text x="78.25" y="268.8" text-anchor="middle">325</text>
<text x="97.9" y="281.6" text-anchor="middle">316</text>
<text x="118.25" y="294.4" text-anchor="middle">307</text>
<text x="137.55" y="307.4" text-anchor="middle">298</text>
<text x="157" y="307.6">0.75</text>
<text x="185.3" y="297.4">1</text>
<text x="214" y="287.8">1.25</text>
<text x="243.1" y="277">1.5</text>
<text x="270.9" y="267.4">1.75</text>
<text x="297.8" y="257.1">2</text>
<text x="27" y="288.4">B: Temp (k)</text>
<text x="189" y="302.7" textLength="149" lengthAdjust="spacing">A: Leachant Concentration (mol/L)</text>
<text transform="translate(9.1,176.7) rotate(-90)" textLength="15" lengthAdjust="spacingAndGlyphs">REE</text>
<text transform="translate(9.1,159.2) rotate(-90)" textLength="28.8" lengthAdjust="spacingAndGlyphs">(mg/L)</text>
</g>
<text x="80.4" y="42.8" font-family="Liberation Serif, serif" font-weight="bold" font-size="16" fill="#000" stroke="#000" stroke-width="0.2">(a)</text>
<rect x="431.2" y="30.3" width="248.9" height="248.9" fill="#0003ff"/>
<path d="M431.2,275.41L441.57,279.2L451.94,279.2L462.31,279.2L472.68,279.2L483.05,279.2L493.43,279.2L503.8,279.2L514.17,279.2L524.54,279.2L534.91,279.2L545.28,279.2L555.65,279.2L566.02,279.2L576.39,279.2L586.76,279.2L597.13,279.2L607.5,279.2L617.88,279.2L628.25,279.2L638.62,279.2L648.99,279.2L659.36,279.2L669.73,279.2L680.1,279.2L680.1,30.3L431.2,30.3Z" fill="#0008ff"/>
<path d="M431.2,271.62L441.57,279.2L451.94,279.2L462.31,279.2L472.68,279.2L483.05,279.2L493.43,279.2L503.8,279.2L514.17,279.2L524.54,279.2L534.91,279.2L545.28,279.2L555.65,279.2L566.02,279.2L576.39,279.2L586.76,279.2L597.13,279.2L607.5,279.2L617.88,279.2L628.25,279.2L638.62,279.2L648.99,279.2L659.36,279.2L669.73,279.2L680.1,279.2L680.1,30.3L431.2,30.3Z" fill="#000dff"/>
<path d="M431.2,267.84L441.57,279.2L451.94,279.2L462.31,279.2L472.68,279.2L483.05,279.2L493.43,279.2L503.8,279.2L514.17,279.2L524.54,279.2L534.91,279.2L545.28,279.2L555.65,279.2L566.02,279.2L576.39,279.2L586.76,279.2L597.13,279.2L607.5,279.2L617.88,279.2L628.25,279.2L638.62,279.2L648.99,279.2L659.36,279.2L669.73,279.2L680.1,279.2L680.1,30.3L431.2,30.3Z" fill="#0013ff"/>
<path d="M431.2,264.07L441.57,279.2L451.94,279.2L462.31,279.2L472.68,279.2L483.05,279.2L493.43,279.2L503.8,279.2L514.17,279.2L524.54,279.2L534.91,279.2L545.28,279.2L555.65,279.2L566.02,279.2L576.39,279.2L586.76,279.2L597.13,279.2L607.5,279.2L617.88,279.2L628.25,279.2L638.62,279.2L648.99,279.2L659.36,279.2L669.73,279.2L680.1,279.2L680.1,30.3L431.2,30.3Z" fill="#0018ff"/>
<path d="M431.2,260.29L441.57,275.86L451.94,279.2L462.31,279.2L472.68,279.2L483.05,279.2L493.43,279.2L503.8,279.2L514.17,279.2L524.54,279.2L534.91,279.2L545.28,279.2L555.65,279.2L566.02,279.2L576.39,279.2L586.76,279.2L597.13,279.2L607.5,279.2L617.88,279.2L628.25,279.2L638.62,279.2L648.99,279.2L659.36,279.2L669.73,279.2L680.1,279.2L680.1,30.3L431.2,30.3Z" fill="#001dff"/>
<path d="M431.2,256.53L441.57,272.13L451.94,279.2L462.31,279.2L472.68,279.2L483.05,279.2L493.43,279.2L503.8,279.2L514.17,279.2L524.54,279.2L534.91,279.2L545.28,279.2L555.65,279.2L566.02,279.2L576.39,279.2L586.76,279.2L597.13,279.2L607.5,279.2L617.88,279.2L628.25,279.2L638.62,279.2L648.99,279.2L659.36,279.2L669.73,279.2L680.1,279.2L680.1,30.3L431.2,30.3Z" fill="#0023ff"/>
<path d="M431.2,252.76L441.57,268.4L451.94,279.2L462.31,279.2L472.68,279.2L483.05,279.2L493.43,279.2L503.8,279.2L514.17,279.2L524.54,279.2L534.91,279.2L545.28,279.2L555.65,279.2L566.02,279.2L576.39,279.2L586.76,279.2L597.13,279.2L607.5,279.2L617.88,279.2L628.25,279.2L638.62,279.2L648.99,279.2L659.36,279.2L669.73,279.2L680.1,279.2L680.1,30.3L431.2,30.3Z" fill="#0028ff"/>
<path d="M431.2,249L441.57,264.68L451.94,279.2L462.31,279.2L472.68,279.2L483.05,279.2L493.43,279.2L503.8,279.2L514.17,279.2L524.54,279.2L534.91,279.2L545.28,279.2L555.65,279.2L566.02,279.2L576.39,279.2L586.76,279.2L597.13,279.2L607.5,279.2L617.88,279.2L628.25,279.2L638.62,279.2L648.99,279.2L659.36,279.2L669.73,279.2L680.1,279.2L680.1,30.3L431.2,30.3Z" fill="#002dff"/>
<path d="M431.2,245.25L441.57,260.96L451.94,276.32L462.31,279.2L472.68,279.2L483.05,279.2L493.43,279.2L503.8,279.2L514.17,279.2L524.54,279.2L534.91,279.2L545.28,279.2L555.65,279.2L566.02,279.2L576.39,279.2L586.76,279.2L597.13,279.2L607.5,279.2L617.88,279.2L628.25,279.2L638.62,279.2L648.99,279.2L659.36,279.2L669.73,279.2L680.1,279.2L680.1,30.3L431.2,30.3Z" fill="#0032ff"/>
<path d="M431.2,241.5L441.57,257.25L451.94,272.64L462.31,279.2L472.68,279.2L483.05,279.2L493.43,279.2L503.8,279.2L514.17,279.2L524.54,279.2L534.91,279.2L545.28,279.2L555.65,279.2L566.02,279.2L576.39,279.2L586.76,279.2L597.13,279.2L607.5,279.2L617.88,279.2L628.25,279.2L638.62,279.2L648.99,279.2L659.36,279.2L669.73,279.2L680.1,279.2L680.1,30.3L431.2,30.3Z" fill="#0038ff"/>
<path d="M431.2,237.76L441.57,253.54L451.94,268.97L462.31,279.2L472.68,279.2L483.05,279.2L493.43,279.2L503.8,279.2L514.17,279.2L524.54,279.2L534.91,279.2L545.28,279.2L555.65,279.2L566.02,279.2L576.39,279.2L586.76,279.2L597.13,279.2L607.5,279.2L617.88,279.2L628.25,279.2L638.62,279.2L648.99,279.2L659.36,279.2L669.73,279.2L680.1,279.2L680.1,30.3L431.2,30.3Z" fill="#003dff"/>
<path d="M431.2,234.02L441.57,249.84L451.94,265.3L462.31,279.2L472.68,279.2L483.05,279.2L493.43,279.2L503.8,279.2L514.17,279.2L524.54,279.2L534.91,279.2L545.28,279.2L555.65,279.2L566.02,279.2L576.39,279.2L586.76,279.2L597.13,279.2L607.5,279.2L617.88,279.2L628.25,279.2L638.62,279.2L648.99,279.2L659.36,279.2L669.73,279.2L680.1,279.2L680.1,30.3L431.2,30.3Z" fill="#0042ff"/>
<path d="M431.2,230.28L441.57,246.14L451.94,261.64L462.31,276.79L472.68,279.2L483.05,279.2L493.43,279.2L503.8,279.2L514.17,279.2L524.54,279.2L534.91,279.2L545.28,279.2L555.65,279.2L566.02,279.2L576.39,279.2L586.76,279.2L597.13,279.2L607.5,279.2L617.88,279.2L628.25,279.2L638.62,279.2L648.99,279.2L659.36,279.2L669.73,279.2L680.1,279.2L680.1,30.3L431.2,30.3Z" fill="#0048ff"/>
<path d="M431.2,226.55L441.57,242.44L451.94,257.98L462.31,273.16L472.68,279.2L483.05,279.2L493.43,279.2L503.8,279.2L514.17,279.2L524.54,279.2L534.91,279.2L545.28,279.2L555.65,279.2L566.02,279.2L576.39,279.2L586.76,279.2L597.13,279.2L607.5,279.2L617.88,279.2L628.25,279.2L638.62,279.2L648.99,279.2L659.36,279.2L669.73,279.2L680.1,279.2L680.1,30.3L431.2,30.3Z" fill="#004dff"/>
<path d="M431.2,222.82L441.57,238.75L451.94,254.32L462.31,269.54L472.68,279.2L483.05,279.2L493.43,279.2L503.8,279.2L514.17,279.2L524.54,279.2L534.91,279.2L545.28,279.2L555.65,279.2L566.02,279.2L576.39,279.2L586.76,279.2L597.13,279.2L607.5,279.2L617.88,279.2L628.25,279.2L638.62,279.2L648.99,279.2L659.36,279.2L669.73,279.2L680.1,279.2L680.1,30.3L431.2,30.3Z" fill="#0052ff"/>
<path d="M431.2,219.1L441.57,235.06L451.94,250.67L462.31,265.92L472.68,279.2L483.05,279.2L493.43,279.2L503.8,279.2L514.17,279.2L524.54,279.2L534.91,279.2L545.28,279.2L555.65,279.2L566.02,279.2L576.39,279.2L586.76,279.2L597.13,279.2L607.5,279.2L617.88,279.2L628.25,279.2L638.62,279.2L648.99,279.2L659.36,279.2L669.73,279.2L680.1,279.2L680.1,30.3L431.2,30.3Z" fill="#0058ff"/>
<path d="M431.2,215.39L441.57,231.38L451.94,247.02L462.31,262.31L472.68,277.26L483.05,279.2L493.43,279.2L503.8,279.2L514.17,279.2L524.54,279.2L534.91,279.2L545.28,279.2L555.65,279.2L566.02,279.2L576.39,279.2L586.76,279.2L597.13,279.2L607.5,279.2L617.88,279.2L628.25,279.2L638.62,279.2L648.99,279.2L659.36,279.2L669.73,279.2L680.1,279.2L680.1,30.3L431.2,30.3Z" fill="#005dff"/>
<path d="M431.2,211.67L441.57,227.7L451.94,243.38L462.31,258.7L472.68,273.68L483.05,279.2L493.43,279.2L503.8,279.2L514.17,279.2L524.54,279.2L534.91,279.2L545.28,279.2L555.65,279.2L566.02,279.2L576.39,279.2L586.76,279.2L597.13,279.2L607.5,279.2L617.88,279.2L628.25,279.2L638.62,279.2L648.99,279.2L659.36,279.2L669.73,279.2L680.1,279.2L680.1,30.3L431.2,30.3Z" fill="#0062ff"/>
<path d="M431.2,207.96L441.57,224.03L451.94,239.74L462.31,255.1L472.68,270.11L483.05,279.2L493.43,279.2L503.8,279.2L514.17,279.2L524.54,279.2L534.91,279.2L545.28,279.2L555.65,279.2L566.02,279.2L576.39,279.2L586.76,279.2L597.13,279.2L607.5,279.2L617.88,279.2L628.25,279.2L638.62,279.2L648.99,279.2L659.36,279.2L669.73,279.2L680.1,279.2L680.1,30.3L431.2,30.3Z" fill="#0068ff"/>
<path d="M431.2,204.26L441.57,220.36L451.94,236.1L462.31,251.5L472.68,266.55L483.05,279.2L493.43,279.2L503.8,279.2L514.17,279.2L524.54,279.2L534.91,279.2L545.28,279.2L555.65,279.2L566.02,279.2L576.39,279.2L586.76,279.2L597.13,279.2L607.5,279.2L617.88,279.2L628.25,279.2L638.62,279.2L648.99,279.2L659.36,279.2L669.73,279.2L680.1,279.2L680.1,30.3L431.2,30.3Z" fill="#006dff"/>
<path d="M431.2,200.56L441.57,216.7L451.94,232.47L462.31,247.9L472.68,262.98L483.05,277.74L493.43,279.2L503.8,279.2L514.17,279.2L524.54,279.2L534.91,279.2L545.28,279.2L555.65,279.2L566.02,279.2L576.39,279.2L586.76,279.2L597.13,279.2L607.5,279.2L617.88,279.2L628.25,279.2L638.62,279.2L648.99,279.2L659.36,279.2L669.73,279.2L680.1,279.2L680.1,30.3L431.2,30.3Z" fill="#0072ff"/>
<path d="M431.2,196.86L441.57,213.03L451.94,228.85L462.31,244.31L472.68,259.43L483.05,274.21L493.43,279.2L503.8,279.2L514.17,279.2L524.54,279.2L534.91,279.2L545.28,279.2L555.65,279.2L566.02,279.2L576.39,279.2L586.76,279.2L597.13,279.2L607.5,279.2L617.88,279.2L628.25,279.2L638.62,279.2L648.99,279.2L659.36,279.2L669.73,279.2L680.1,279.2L680.1,30.3L431.2,30.3Z" fill="#0078ff"/>
<path d="M431.2,193.17L441.57,209.38L451.94,225.22L462.31,240.72L472.68,255.87L483.05,270.69L493.43,279.2L503.8,279.2L514.17,279.2L524.54,279.2L534.91,279.2L545.28,279.2L555.65,279.2L566.02,279.2L576.39,279.2L586.76,279.2L597.13,279.2L607.5,279.2L617.88,279.2L628.25,279.2L638.62,279.2L648.99,279.2L659.36,279.2L669.73,279.2L680.1,279.2L680.1,30.3L431.2,30.3Z" fill="#007dff"/>
<path d="M431.2,189.48L441.57,205.73L451.94,221.6L462.31,237.13L472.68,252.32L483.05,267.18L493.43,279.2L503.8,279.2L514.17,279.2L524.54,279.2L534.91,279.2L545.28,279.2L555.65,279.2L566.02,279.2L576.39,279.2L586.76,279.2L597.13,279.2L607.5,279.2L617.88,279.2L628.25,279.2L638.62,279.2L648.99,279.2L659.36,279.2L669.73,279.2L680.1,279.2L680.1,30.3L431.2,30.3Z" fill="#0082ff"/>
<path d="M431.2,185.8L441.57,202.08L451.94,217.99L462.31,233.55L472.68,248.77L483.05,263.66L493.43,278.23L503.8,279.2L514.17,279.2L524.54,279.2L534.91,279.2L545.28,279.2L555.65,279.2L566.02,279.2L576.39,279.2L586.76,279.2L597.13,279.2L607.5,279.2L617.88,279.2L628.25,279.2L638.62,279.2L648.99,279.2L659.36,279.2L669.73,279.2L680.1,279.2L680.1,30.3L431.2,30.3Z" fill="#0087ff"/>
<path d="M431.2,182.12L441.57,198.43L451.94,214.38L462.31,229.98L472.68,245.23L483.05,260.15L493.43,274.75L503.8,279.2L514.17,279.2L524.54,279.2L534.91,279.2L545.28,279.2L555.65,279.2L566.02,279.2L576.39,279.2L586.76,279.2L597.13,279.2L607.5,279.2L617.88,279.2L628.25,279.2L638.62,279.2L648.99,279.2L659.36,279.2L669.73,279.2L680.1,279.2L680.1,30.3L431.2,30.3Z" fill="#008dff"/>
<path d="M431.2,178.45L441.57,194.79L451.94,210.77L462.31,226.4L472.68,241.69L483.05,256.64L493.43,271.28L503.8,279.2L514.17,279.2L524.54,279.2L534.91,279.2L545.28,279.2L555.65,279.2L566.02,279.2L576.39,279.2L586.76,279.2L597.13,279.2L607.5,279.2L617.88,279.2L628.25,279.2L638.62,279.2L648.99,279.2L659.36,279.2L669.73,279.2L680.1,279.2L680.1,30.3L431.2,30.3Z" fill="#0092ff"/>
<path d="M431.2,174.78L441.57,191.16L451.94,207.17L462.31,222.83L472.68,238.15L483.05,253.14L493.43,267.81L503.8,279.2L514.17,279.2L524.54,279.2L534.91,279.2L545.28,279.2L555.65,279.2L566.02,279.2L576.39,279.2L586.76,279.2L597.13,279.2L607.5,279.2L617.88,279.2L628.25,279.2L638.62,279.2L648.99,279.2L659.36,279.2L669.73,279.2L680.1,279.2L680.1,30.3L431.2,30.3Z" fill="#0097ff"/>
<path d="M431.2,171.11L441.57,187.52L451.94,203.57L462.31,219.27L472.68,234.62L483.05,249.64L493.43,264.34L503.8,278.72L514.17,279.2L524.54,279.2L534.91,279.2L545.28,279.2L555.65,279.2L566.02,279.2L576.39,279.2L586.76,279.2L597.13,279.2L607.5,279.2L617.88,279.2L628.25,279.2L638.62,279.2L648.99,279.2L659.36,279.2L669.73,279.2L680.1,279.2L680.1,30.3L431.2,30.3Z" fill="#009dff"/>
<path d="M431.2,167.45L441.57,183.9L451.94,199.98L462.31,215.71L472.68,231.09L483.05,246.15L493.43,260.88L503.8,275.29L514.17,279.2L524.54,279.2L534.91,279.2L545.28,279.2L555.65,279.2L566.02,279.2L576.39,279.2L586.76,279.2L597.13,279.2L607.5,279.2L617.88,279.2L628.25,279.2L638.62,279.2L648.99,279.2L659.36,279.2L669.73,279.2L680.1,279.2L680.1,30.3L431.2,30.3Z" fill="#00a2ff"/>
<path d="M431.2,163.8L441.57,180.27L451.94,196.39L462.31,212.15L472.68,227.57L483.05,242.66L493.43,257.42L503.8,271.86L514.17,279.2L524.54,279.2L534.91,279.2L545.28,279.2L555.65,279.2L566.02,279.2L576.39,279.2L586.76,279.2L597.13,279.2L607.5,279.2L617.88,279.2L628.25,279.2L638.62,279.2L648.99,279.2L659.36,279.2L669.73,279.2L680.1,279.2L680.1,30.3L431.2,30.3Z" fill="#00a7ff"/>
<path d="M431.2,160.14L441.57,176.65L451.94,192.8L462.31,208.6L472.68,224.05L483.05,239.17L493.43,253.96L503.8,268.44L514.17,279.2L524.54,279.2L534.91,279.2L545.28,279.2L555.65,279.2L566.02,279.2L576.39,279.2L586.76,279.2L597.13,279.2L607.5,279.2L617.88,279.2L628.25,279.2L638.62,279.2L648.99,279.2L659.36,279.2L669.73,279.2L680.1,279.2L680.1,30.3L431.2,30.3Z" fill="#00adff"/>
<path d="M431.2,156.5L441.57,173.04L451.94,189.22L462.31,205.05L472.68,220.53L483.05,235.68L493.43,250.51L503.8,265.02L514.17,279.2L524.54,279.2L534.91,279.2L545.28,279.2L555.65,279.2L566.02,279.2L576.39,279.2L586.76,279.2L597.13,279.2L607.5,279.2L617.88,279.2L628.25,279.2L638.62,279.2L648.99,279.2L659.36,279.2L669.73,279.2L680.1,279.2L680.1,30.3L431.2,30.3Z" fill="#00b2ff"/>
<path d="M431.2,152.85L441.57,169.43L451.94,185.64L462.31,201.5L472.68,217.02L483.05,232.2L493.43,247.06L503.8,261.6L514.17,275.84L524.54,279.2L534.91,279.2L545.28,279.2L555.65,279.2L566.02,279.2L576.39,279.2L586.76,279.2L597.13,279.2L607.5,279.2L617.88,279.2L628.25,279.2L638.62,279.2L648.99,279.2L659.36,279.2L669.73,279.2L680.1,279.2L680.1,30.3L431.2,30.3Z" fill="#00b7ff"/>
<path d="M431.2,149.21L441.57,165.82L451.94,182.07L462.31,197.96L472.68,213.51L483.05,228.73L493.43,243.62L503.8,258.19L514.17,272.45L524.54,279.2L534.91,279.2L545.28,279.2L555.65,279.2L566.02,279.2L576.39,279.2L586.76,279.2L597.13,279.2L607.5,279.2L617.88,279.2L628.25,279.2L638.62,279.2L648.99,279.2L659.36,279.2L669.73,279.2L680.1,279.2L680.1,30.3L431.2,30.3Z" fill="#00bdff"/>
<path d="M431.2,145.57L441.57,162.22L451.94,178.5L462.31,194.42L472.68,210L483.05,225.25L493.43,240.17L503.8,254.78L514.17,269.07L524.54,279.2L534.91,279.2L545.28,279.2L555.65,279.2L566.02,279.2L576.39,279.2L586.76,279.2L597.13,279.2L607.5,279.2L617.88,279.2L628.25,279.2L638.62,279.2L648.99,279.2L659.36,279.2L669.73,279.2L680.1,279.2L680.1,30.3L431.2,30.3Z" fill="#00c2ff"/>
<path d="M431.2,141.94L441.57,158.62L451.94,174.93L462.31,190.89L472.68,206.5L483.05,221.78L493.43,236.74L503.8,251.37L514.17,265.7L524.54,279.2L534.91,279.2L545.28,279.2L555.65,279.2L566.02,279.2L576.39,279.2L586.76,279.2L597.13,279.2L607.5,279.2L617.88,279.2L628.25,279.2L638.62,279.2L648.99,279.2L659.36,279.2L669.73,279.2L680.1,279.2L680.1,30.3L431.2,30.3Z" fill="#00c7ff"/>
<path d="M431.2,138.31L441.57,155.02L451.94,171.37L462.31,187.36L472.68,203L483.05,218.32L493.43,233.3L503.8,247.97L514.17,262.33L524.54,276.39L534.91,279.2L545.28,279.2L555.65,279.2L566.02,279.2L576.39,279.2L586.76,279.2L597.13,279.2L607.5,279.2L617.88,279.2L628.25,279.2L638.62,279.2L648.99,279.2L659.36,279.2L669.73,279.2L680.1,279.2L680.1,30.3L431.2,30.3Z" fill="#00cdff"/>
<path d="M431.2,134.69L441.57,151.43L451.94,167.81L462.31,183.83L472.68,199.51L483.05,214.85L493.43,229.87L503.8,244.57L514.17,258.96L524.54,273.05L534.91,279.2L545.28,279.2L555.65,279.2L566.02,279.2L576.39,279.2L586.76,279.2L597.13,279.2L607.5,279.2L617.88,279.2L628.25,279.2L638.62,279.2L648.99,279.2L659.36,279.2L669.73,279.2L680.1,279.2L680.1,30.3L431.2,30.3Z" fill="#00d2ff"/>
<path d="M431.2,131.07L441.57,147.84L451.94,164.25L462.31,180.31L472.68,196.02L483.05,211.39L493.43,226.44L503.8,241.17L514.17,255.59L524.54,269.71L534.91,279.2L545.28,279.2L555.65,279.2L566.02,279.2L576.39,279.2L586.76,279.2L597.13,279.2L607.5,279.2L617.88,279.2L628.25,279.2L638.62,279.2L648.99,279.2L659.36,279.2L669.73,279.2L680.1,279.2L680.1,30.3L431.2,30.3Z" fill="#00d7ff"/>
<path d="M431.2,127.46L441.57,144.26L451.94,160.7L462.31,176.79L472.68,192.53L483.05,207.94L493.43,223.02L503.8,237.78L514.17,252.23L524.54,266.38L534.91,279.2L545.28,279.2L555.65,279.2L566.02,279.2L576.39,279.2L586.76,279.2L597.13,279.2L607.5,279.2L617.88,279.2L628.25,279.2L638.62,279.2L648.99,279.2L659.36,279.2L669.73,279.2L680.1,279.2L680.1,30.3L431.2,30.3Z" fill="#00dcff"/>
<path d="M431.2,123.84L441.57,140.68L451.94,157.16L462.31,173.28L472.68,189.05L483.05,204.49L493.43,219.6L503.8,234.39L514.17,248.87L524.54,263.05L534.91,276.94L545.28,279.2L555.65,279.2L566.02,279.2L576.39,279.2L586.76,279.2L597.13,279.2L607.5,279.2L617.88,279.2L628.25,279.2L638.62,279.2L648.99,279.2L659.36,279.2L669.73,279.2L680.1,279.2L680.1,30.3L431.2,30.3Z" fill="#00e2ff"/>
<path d="M431.2,120.24L441.57,137.11L451.94,153.61L462.31,169.76L472.68,185.57L483.05,201.04L493.43,216.18L503.8,231L514.17,245.52L524.54,259.73L534.91,273.65L545.28,279.2L555.65,279.2L566.02,279.2L576.39,279.2L586.76,279.2L597.13,279.2L607.5,279.2L617.88,279.2L628.25,279.2L638.62,279.2L648.99,279.2L659.36,279.2L669.73,279.2L680.1,279.2L680.1,30.3L431.2,30.3Z" fill="#00e7ff"/>
<path d="M431.2,116.63L441.57,133.54L451.94,150.07L462.31,166.26L472.68,182.09L483.05,197.59L493.43,212.77L503.8,227.62L514.17,242.16L524.54,256.41L534.91,270.35L545.28,279.2L555.65,279.2L566.02,279.2L576.39,279.2L586.76,279.2L597.13,279.2L607.5,279.2L617.88,279.2L628.25,279.2L638.62,279.2L648.99,279.2L659.36,279.2L669.73,279.2L680.1,279.2L680.1,30.3L431.2,30.3Z" fill="#00ecff"/>
<path d="M431.2,113.03L441.57,129.97L451.94,146.54L462.31,162.75L472.68,178.62L483.05,194.15L493.43,209.36L503.8,224.24L514.17,238.81L524.54,253.09L534.91,267.06L545.28,279.2L555.65,279.2L566.02,279.2L576.39,279.2L586.76,279.2L597.13,279.2L607.5,279.2L617.88,279.2L628.25,279.2L638.62,279.2L648.99,279.2L659.36,279.2L669.73,279.2L680.1,279.2L680.1,30.3L431.2,30.3Z" fill="#00f2ff"/>
<path d="M431.2,109.44L441.57,126.41L451.94,143.01L462.31,159.25L472.68,175.15L483.05,190.71L493.43,205.95L503.8,220.86L514.17,235.47L524.54,249.77L534.91,263.78L545.28,277.5L555.65,279.2L566.02,279.2L576.39,279.2L586.76,279.2L597.13,279.2L607.5,279.2L617.88,279.2L628.25,279.2L638.62,279.2L648.99,279.2L659.36,279.2L669.73,279.2L680.1,279.2L680.1,30.3L431.2,30.3Z" fill="#00f7ff"/>
<path d="M431.2,105.85L441.57,122.85L451.94,139.48L462.31,155.76L472.68,171.69L483.05,187.28L493.43,202.54L503.8,217.49L514.17,232.13L524.54,246.46L534.91,260.5L545.28,274.25L555.65,279.2L566.02,279.2L576.39,279.2L586.76,279.2L597.13,279.2L607.5,279.2L617.88,279.2L628.25,279.2L638.62,279.2L648.99,279.2L659.36,279.2L669.73,279.2L680.1,279.2L680.1,30.3L431.2,30.3Z" fill="#00fcff"/>
<path d="M431.2,102.26L441.57,119.29L451.94,135.95L462.31,152.26L472.68,168.22L483.05,183.85L493.43,199.14L503.8,214.12L514.17,228.79L524.54,243.15L534.91,257.22L545.28,271L555.65,279.2L566.02,279.2L576.39,279.2L586.76,279.2L597.13,279.2L607.5,279.2L617.88,279.2L628.25,279.2L638.62,279.2L648.99,279.2L659.36,279.2L669.73,279.2L680.1,279.2L680.1,30.3L431.2,30.3Z" fill="#00fffc"/>
<path d="M431.2,98.68L441.57,115.74L451.94,132.43L462.31,148.77L472.68,164.77L483.05,180.42L493.43,195.75L503.8,210.75L514.17,225.45L524.54,239.84L534.91,253.94L545.28,267.75L555.65,279.2L566.02,279.2L576.39,279.2L586.76,279.2L597.13,279.2L607.5,279.2L617.88,279.2L628.25,279.2L638.62,279.2L648.99,279.2L659.36,279.2L669.73,279.2L680.1,279.2L680.1,30.3L431.2,30.3Z" fill="#00fff7"/>
<path d="M431.2,95.1L441.57,112.19L451.94,128.92L462.31,145.29L472.68,161.31L483.05,177L493.43,192.35L503.8,207.39L514.17,222.12L524.54,236.54L534.91,250.66L545.28,264.5L555.65,278.06L566.02,279.2L576.39,279.2L586.76,279.2L597.13,279.2L607.5,279.2L617.88,279.2L628.25,279.2L638.62,279.2L648.99,279.2L659.36,279.2L669.73,279.2L680.1,279.2L680.1,30.3L431.2,30.3Z" fill="#00fff2"/>
<path d="M431.2,91.52L441.57,108.65L451.94,125.4L462.31,141.81L472.68,157.86L483.05,173.58L493.43,188.96L503.8,204.03L514.17,218.79L524.54,233.24L534.91,247.39L545.28,261.26L555.65,274.85L566.02,279.2L576.39,279.2L586.76,279.2L597.13,279.2L607.5,279.2L617.88,279.2L628.25,279.2L638.62,279.2L648.99,279.2L659.36,279.2L669.73,279.2L680.1,279.2L680.1,30.3L431.2,30.3Z" fill="#00ffec"/>
<path d="M431.2,87.95L441.57,105.11L451.94,121.9L462.31,138.33L472.68,154.41L483.05,170.16L493.43,185.58L503.8,200.67L514.17,215.46L524.54,229.94L534.91,244.13L545.28,258.02L555.65,271.64L566.02,279.2L576.39,279.2L586.76,279.2L597.13,279.2L607.5,279.2L617.88,279.2L628.25,279.2L638.62,279.2L648.99,279.2L659.36,279.2L669.73,279.2L680.1,279.2L680.1,30.3L431.2,30.3Z" fill="#00ffe7"/>
<path d="M431.2,84.38L441.57,101.57L451.94,118.39L462.31,134.85L472.68,150.97L483.05,166.75L493.43,182.19L503.8,197.32L514.17,212.14L524.54,226.65L534.91,240.86L545.28,254.79L555.65,268.43L566.02,279.2L576.39,279.2L586.76,279.2L597.13,279.2L607.5,279.2L617.88,279.2L628.25,279.2L638.62,279.2L648.99,279.2L659.36,279.2L669.73,279.2L680.1,279.2L680.1,30.3L431.2,30.3Z" fill="#00ffe2"/>
<path d="M431.2,80.82L441.57,98.04L451.94,114.89L462.31,131.38L472.68,147.53L483.05,163.34L493.43,178.81L503.8,193.97L514.17,208.82L524.54,223.36L534.91,237.6L545.28,251.56L555.65,265.23L566.02,278.63L576.39,279.2L586.76,279.2L597.13,279.2L607.5,279.2L617.88,279.2L628.25,279.2L638.62,279.2L648.99,279.2L659.36,279.2L669.73,279.2L680.1,279.2L680.1,30.3L431.2,30.3Z" fill="#00ffdc"/>
<path d="M431.2,77.26L441.57,94.51L451.94,111.39L462.31,127.91L472.68,144.09L483.05,159.93L493.43,175.44L503.8,190.62L514.17,205.5L524.54,220.07L534.91,234.34L545.28,248.33L555.65,262.03L566.02,275.46L576.39,279.2L586.76,279.2L597.13,279.2L607.5,279.2L617.88,279.2L628.25,279.2L638.62,279.2L648.99,279.2L659.36,279.2L669.73,279.2L680.1,279.2L680.1,30.3L431.2,30.3Z" fill="#00ffd7"/>
<path d="M431.2,73.7L441.57,90.98L451.94,107.9L462.31,124.45L472.68,140.66L483.05,156.53L493.43,172.06L503.8,187.28L514.17,202.18L524.54,216.78L534.91,231.09L545.28,245.1L555.65,258.83L566.02,272.29L576.39,279.2L586.76,279.2L597.13,279.2L607.5,279.2L617.88,279.2L628.25,279.2L638.62,279.2L648.99,279.2L659.36,279.2L669.73,279.2L680.1,279.2L680.1,30.3L431.2,30.3Z" fill="#00ffd2"/>
<path d="M431.2,70.15L441.57,87.46L451.94,104.41L462.31,120.99L472.68,137.23L483.05,153.13L493.43,168.69L503.8,183.94L514.17,198.87L524.54,213.5L534.91,227.83L545.28,241.87L555.65,255.63L566.02,269.12L576.39,279.2L586.76,279.2L597.13,279.2L607.5,279.2L617.88,279.2L628.25,279.2L638.62,279.2L648.99,279.2L659.36,279.2L669.73,279.2L680.1,279.2L680.1,30.3L431.2,30.3Z" fill="#00ffcd"/>
<path d="M431.2,66.6L441.57,83.95L451.94,100.92L462.31,117.53L472.68,133.8L483.05,149.73L493.43,165.33L503.8,180.6L514.17,195.57L524.54,210.22L534.91,224.58L545.28,238.65L555.65,252.44L566.02,265.96L576.39,279.2L586.76,279.2L597.13,279.2L607.5,279.2L617.88,279.2L628.25,279.2L638.62,279.2L648.99,279.2L659.36,279.2L669.73,279.2L680.1,279.2L680.1,30.3L431.2,30.3Z" fill="#00ffc7"/>
<path d="M431.2,63.06L441.57,80.43L451.94,97.44L462.31,114.08L472.68,130.38L483.05,146.34L493.43,161.96L503.8,177.27L514.17,192.26L524.54,206.95L534.91,221.34L545.28,235.43L555.65,249.25L566.02,262.79L576.39,276.07L586.76,279.2L597.13,279.2L607.5,279.2L617.88,279.2L628.25,279.2L638.62,279.2L648.99,279.2L659.36,279.2L669.73,279.2L680.1,279.2L680.1,30.3L431.2,30.3Z" fill="#00ffc2"/>
<path d="M431.2,59.52L441.57,76.92L451.94,93.96L462.31,110.63L472.68,126.96L483.05,142.95L493.43,158.6L503.8,173.94L514.17,188.96L524.54,203.67L534.91,218.09L545.28,232.22L555.65,246.06L566.02,259.63L576.39,272.94L586.76,279.2L597.13,279.2L607.5,279.2L617.88,279.2L628.25,279.2L638.62,279.2L648.99,279.2L659.36,279.2L669.73,279.2L680.1,279.2L680.1,30.3L431.2,30.3Z" fill="#00ffbd"/>
<path d="M431.2,55.98L441.57,73.42L451.94,90.48L462.31,107.19L472.68,123.54L483.05,139.56L493.43,155.25L503.8,170.61L514.17,185.66L524.54,200.41L534.91,214.85L545.28,229.01L555.65,242.88L566.02,256.48L576.39,269.81L586.76,279.2L597.13,279.2L607.5,279.2L617.88,279.2L628.25,279.2L638.62,279.2L648.99,279.2L659.36,279.2L669.73,279.2L680.1,279.2L680.1,30.3L431.2,30.3Z" fill="#00ffb7"/>
<path d="M431.2,52.45L441.57,69.91L451.94,87.01L462.31,103.74L472.68,120.13L483.05,136.18L493.43,151.89L503.8,167.29L514.17,182.37L524.54,197.14L534.91,211.61L545.28,225.8L555.65,239.7L566.02,253.32L576.39,266.68L586.76,279.2L597.13,279.2L607.5,279.2L617.88,279.2L628.25,279.2L638.62,279.2L648.99,279.2L659.36,279.2L669.73,279.2L680.1,279.2L680.1,30.3L431.2,30.3Z" fill="#00ffb2"/>
<path d="M431.2,48.92L441.57,66.41L451.94,83.54L462.31,100.3L472.68,116.72L483.05,132.8L493.43,148.54L503.8,163.97L514.17,179.07L524.54,193.87L534.91,208.38L545.28,222.59L555.65,236.52L566.02,250.17L576.39,263.56L586.76,276.68L597.13,279.2L607.5,279.2L617.88,279.2L628.25,279.2L638.62,279.2L648.99,279.2L659.36,279.2L669.73,279.2L680.1,279.2L680.1,30.3L431.2,30.3Z" fill="#00ffad"/>
<path d="M431.2,45.4L441.57,62.92L451.94,80.07L462.31,96.87L472.68,113.32L483.05,129.42L493.43,145.2L503.8,160.65L514.17,175.78L524.54,190.61L534.91,205.15L545.28,219.39L555.65,233.34L566.02,247.02L576.39,260.44L586.76,273.59L597.13,279.2L607.5,279.2L617.88,279.2L628.25,279.2L638.62,279.2L648.99,279.2L659.36,279.2L669.73,279.2L680.1,279.2L680.1,30.3L431.2,30.3Z" fill="#00ffa7"/>
<path d="M431.2,41.88L441.57,59.43L451.94,76.61L462.31,93.44L472.68,109.91L483.05,126.05L493.43,141.85L503.8,157.33L514.17,172.5L524.54,187.36L534.91,201.92L545.28,216.19L555.65,230.17L566.02,243.88L576.39,257.32L586.76,270.5L597.13,279.2L607.5,279.2L617.88,279.2L628.25,279.2L638.62,279.2L648.99,279.2L659.36,279.2L669.73,279.2L680.1,279.2L680.1,30.3L431.2,30.3Z" fill="#00ffa2"/>
<path d="M431.2,38.36L441.57,55.94L451.94,73.15L462.31,90.01L472.68,106.51L483.05,122.68L493.43,138.51L503.8,154.02L514.17,169.21L524.54,184.1L534.91,198.69L545.28,212.99L555.65,227L566.02,240.74L576.39,254.2L586.76,267.41L597.13,279.2L607.5,279.2L617.88,279.2L628.25,279.2L638.62,279.2L648.99,279.2L659.36,279.2L669.73,279.2L680.1,279.2L680.1,30.3L431.2,30.3Z" fill="#00ff9d"/>
<path d="M431.2,34.84L441.57,52.46L451.94,69.7L462.31,86.58L472.68,103.12L483.05,119.31L493.43,135.17L503.8,150.71L514.17,165.93L524.54,180.85L534.91,195.47L545.28,209.79L555.65,223.83L566.02,237.6L576.39,251.09L586.76,264.32L597.13,277.3L607.5,279.2L617.88,279.2L628.25,279.2L638.62,279.2L648.99,279.2L659.36,279.2L669.73,279.2L680.1,279.2L680.1,30.3L431.2,30.3Z" fill="#00ff97"/>
<path d="M431.2,31.33L441.57,48.98L451.94,66.25L462.31,83.16L472.68,99.73L483.05,115.95L493.43,131.84L503.8,147.41L514.17,162.66L524.54,177.6L534.91,192.25L545.28,206.6L555.65,220.67L566.02,234.46L576.39,247.98L586.76,261.24L597.13,274.24L607.5,279.2L617.88,279.2L628.25,279.2L638.62,279.2L648.99,279.2L659.36,279.2L669.73,279.2L680.1,279.2L680.1,30.3L431.2,30.3Z" fill="#00ff92"/>
<path d="M431.2,30.3L441.57,45.5L451.94,62.8L462.31,79.74L472.68,96.34L483.05,112.59L493.43,128.51L503.8,144.1L514.17,159.38L524.54,174.36L534.91,189.03L545.28,203.41L555.65,217.5L566.02,231.32L576.39,244.87L586.76,258.16L597.13,271.18L607.5,279.2L617.88,279.2L628.25,279.2L638.62,279.2L648.99,279.2L659.36,279.2L669.73,279.2L680.1,279.2L680.1,30.3L431.2,30.3Z" fill="#00ff8d"/>
<path d="M431.2,30.3L441.57,42.03L451.94,59.36L462.31,76.33L472.68,92.95L483.05,109.23L493.43,125.18L503.8,140.8L514.17,156.11L524.54,171.11L534.91,185.81L545.28,200.22L555.65,214.34L566.02,228.19L576.39,241.77L586.76,255.08L597.13,268.13L607.5,279.2L617.88,279.2L628.25,279.2L638.62,279.2L648.99,279.2L659.36,279.2L669.73,279.2L680.1,279.2L680.1,30.3L431.2,30.3Z" fill="#00ff87"/>
<path d="M431.2,30.3L441.57,38.56L451.94,55.92L462.31,72.92L472.68,89.57L483.05,105.88L493.43,121.86L503.8,137.51L514.17,152.84L524.54,167.87L534.91,182.6L545.28,197.04L555.65,211.19L566.02,225.06L576.39,238.66L586.76,252L597.13,265.08L607.5,277.91L617.88,279.2L628.25,279.2L638.62,279.2L648.99,279.2L659.36,279.2L669.73,279.2L680.1,279.2L680.1,30.3L431.2,30.3Z" fill="#00ff82"/>
<path d="M431.2,30.3L441.57,35.09L451.94,52.48L462.31,69.51L472.68,86.19L483.05,102.53L493.43,118.53L503.8,134.22L514.17,149.58L524.54,164.64L534.91,179.39L545.28,193.86L555.65,208.03L566.02,221.93L576.39,235.56L586.76,248.93L597.13,262.04L607.5,274.89L617.88,279.2L628.25,279.2L638.62,279.2L648.99,279.2L659.36,279.2L669.73,279.2L680.1,279.2L680.1,30.3L431.2,30.3Z" fill="#00ff7d"/>
<path d="M431.2,30.3L441.57,31.63L451.94,49.05L462.31,66.11L472.68,82.81L483.05,99.18L493.43,115.22L503.8,130.93L514.17,146.32L524.54,161.4L534.91,176.19L545.28,190.68L555.65,204.88L566.02,218.81L576.39,232.47L586.76,245.86L597.13,258.99L607.5,271.87L617.88,279.2L628.25,279.2L638.62,279.2L648.99,279.2L659.36,279.2L669.73,279.2L680.1,279.2L680.1,30.3L431.2,30.3Z" fill="#00ff78"/>
<path d="M431.2,30.3L441.57,30.3L451.94,45.62L462.31,62.7L472.68,79.44L483.05,95.84L493.43,111.9L503.8,127.64L514.17,143.06L524.54,158.17L534.91,172.98L545.28,187.5L555.65,201.73L566.02,215.69L576.39,229.37L586.76,242.79L597.13,255.95L607.5,268.86L617.88,279.2L628.25,279.2L638.62,279.2L648.99,279.2L659.36,279.2L669.73,279.2L680.1,279.2L680.1,30.3L431.2,30.3Z" fill="#00ff72"/>
<path d="M431.2,30.3L441.57,30.3L451.94,42.19L462.31,59.31L472.68,76.07L483.05,92.5L493.43,108.59L503.8,124.35L514.17,139.8L524.54,154.94L534.91,169.78L545.28,184.33L555.65,198.59L566.02,212.57L576.39,226.28L586.76,239.72L597.13,252.91L607.5,265.84L617.88,278.53L628.25,279.2L638.62,279.2L648.99,279.2L659.36,279.2L669.73,279.2L680.1,279.2L680.1,30.3L431.2,30.3Z" fill="#00ff6d"/>
<path d="M431.2,30.3L441.57,30.3L451.94,38.77L462.31,55.91L472.68,72.71L483.05,89.16L493.43,105.28L503.8,121.07L514.17,136.55L524.54,151.72L534.91,166.58L545.28,181.16L555.65,195.44L566.02,209.45L576.39,223.19L586.76,236.66L597.13,249.87L607.5,262.83L617.88,275.55L628.25,279.2L638.62,279.2L648.99,279.2L659.36,279.2L669.73,279.2L680.1,279.2L680.1,30.3L431.2,30.3Z" fill="#00ff68"/>
<path d="M431.2,30.3L441.57,30.3L451.94,35.35L462.31,52.52L472.68,69.35L483.05,85.83L493.43,101.97L503.8,117.8L514.17,133.3L524.54,148.5L534.91,163.39L545.28,177.99L555.65,192.3L566.02,206.34L576.39,220.1L586.76,233.6L597.13,246.84L607.5,259.82L617.88,272.57L628.25,279.2L638.62,279.2L648.99,279.2L659.36,279.2L669.73,279.2L680.1,279.2L680.1,30.3L431.2,30.3Z" fill="#00ff62"/>
<path d="M431.2,30.3L441.57,30.3L451.94,31.93L462.31,49.14L472.68,65.99L483.05,82.5L493.43,98.67L503.8,114.52L514.17,130.05L524.54,145.28L534.91,160.2L545.28,174.82L555.65,189.17L566.02,203.23L576.39,217.02L586.76,230.54L597.13,243.8L607.5,256.82L617.88,269.58L628.25,279.2L638.62,279.2L648.99,279.2L659.36,279.2L669.73,279.2L680.1,279.2L680.1,30.3L431.2,30.3Z" fill="#00ff5d"/>
<path d="M431.2,30.3L441.57,30.3L451.94,30.3L462.31,45.75L472.68,62.63L483.05,79.17L493.43,95.37L503.8,111.25L514.17,126.81L524.54,142.06L534.91,157.01L545.28,171.66L555.65,186.03L566.02,200.12L576.39,213.93L586.76,227.48L597.13,240.77L607.5,253.81L617.88,266.61L628.25,279.16L638.62,279.2L648.99,279.2L659.36,279.2L669.73,279.2L680.1,279.2L680.1,30.3L431.2,30.3Z" fill="#00ff58"/>
<path d="M431.2,30.3L441.57,30.3L451.94,30.3L462.31,42.37L472.68,59.28L483.05,75.84L493.43,92.08L503.8,107.98L514.17,123.57L524.54,138.85L534.91,153.82L545.28,168.5L555.65,182.9L566.02,197.01L576.39,210.85L586.76,224.43L597.13,237.75L607.5,250.81L617.88,263.63L628.25,276.21L638.62,279.2L648.99,279.2L659.36,279.2L669.73,279.2L680.1,279.2L680.1,30.3L431.2,30.3Z" fill="#00ff52"/>
<path d="M431.2,30.3L441.57,30.3L451.94,30.3L462.31,38.99L472.68,55.93L483.05,72.52L493.43,88.78L503.8,104.71L514.17,120.33L524.54,135.63L534.91,150.64L545.28,165.35L555.65,179.77L566.02,193.91L576.39,207.78L586.76,221.38L597.13,234.72L607.5,247.81L617.88,260.65L628.25,273.26L638.62,279.2L648.99,279.2L659.36,279.2L669.73,279.2L680.1,279.2L680.1,30.3L431.2,30.3Z" fill="#00ff4d"/>
<path d="M431.2,30.3L441.57,30.3L451.94,30.3L462.31,35.62L472.68,52.58L483.05,69.2L493.43,85.49L503.8,101.45L514.17,117.09L524.54,132.43L534.91,147.46L545.28,162.19L555.65,176.64L566.02,190.81L576.39,204.7L586.76,218.33L597.13,231.7L607.5,244.81L617.88,257.68L628.25,270.31L638.62,279.2L648.99,279.2L659.36,279.2L669.73,279.2L680.1,279.2L680.1,30.3L431.2,30.3Z" fill="#00ff48"/>
<path d="M431.2,30.3L441.57,30.3L451.94,30.3L462.31,32.25L472.68,49.24L483.05,65.89L493.43,82.2L503.8,98.19L514.17,113.86L524.54,129.22L534.91,144.28L545.28,159.04L555.65,173.51L566.02,187.71L576.39,201.63L586.76,215.28L597.13,228.68L607.5,241.82L617.88,254.71L628.25,267.37L638.62,279.2L648.99,279.2L659.36,279.2L669.73,279.2L680.1,279.2L680.1,30.3L431.2,30.3Z" fill="#00ff42"/>
<path d="M431.2,30.3L441.57,30.3L451.94,30.3L462.31,30.3L472.68,45.9L483.05,62.58L493.43,78.92L503.8,94.94L514.17,110.63L524.54,126.02L534.91,141.1L545.28,155.89L555.65,170.39L566.02,184.61L576.39,198.56L586.76,212.24L597.13,225.66L607.5,238.83L617.88,251.74L628.25,264.42L638.62,276.87L648.99,279.2L659.36,279.2L669.73,279.2L680.1,279.2L680.1,30.3L431.2,30.3Z" fill="#00ff3d"/>
<path d="M431.2,30.3L441.57,30.3L451.94,30.3L462.31,30.3L472.68,42.56L483.05,59.27L493.43,75.64L503.8,91.68L514.17,107.41L524.54,122.82L534.91,137.93L545.28,152.75L555.65,167.27L566.02,181.52L576.39,195.49L586.76,209.2L597.13,222.64L607.5,235.84L617.88,248.78L628.25,261.48L638.62,273.95L648.99,279.2L659.36,279.2L669.73,279.2L680.1,279.2L680.1,30.3L431.2,30.3Z" fill="#00ff38"/>
<path d="M431.2,30.3L441.57,30.3L451.94,30.3L462.31,30.3L472.68,39.23L483.05,55.96L493.43,72.36L503.8,88.43L514.17,104.18L524.54,119.62L534.91,134.76L545.28,149.6L555.65,164.16L566.02,178.43L576.39,192.43L586.76,206.16L597.13,219.63L607.5,232.85L617.88,245.82L628.25,258.54L638.62,271.04L648.99,279.2L659.36,279.2L669.73,279.2L680.1,279.2L680.1,30.3L431.2,30.3Z" fill="#00ff32"/>
<path d="M431.2,30.3L441.57,30.3L451.94,30.3L462.31,30.3L472.68,35.9L483.05,52.66L493.43,69.09L503.8,85.18L514.17,100.96L524.54,116.43L534.91,131.59L545.28,146.46L555.65,161.04L566.02,175.34L576.39,189.37L586.76,203.12L597.13,216.62L607.5,229.86L617.88,242.86L628.25,255.61L638.62,268.12L648.99,279.2L659.36,279.2L669.73,279.2L680.1,279.2L680.1,30.3L431.2,30.3Z" fill="#00ff2d"/>
<path d="M431.2,30.3L441.57,30.3L451.94,30.3L462.31,30.3L472.68,32.57L483.05,49.36L493.43,65.81L503.8,81.94L514.17,97.74L524.54,113.24L534.91,128.43L545.28,143.32L555.65,157.93L566.02,172.26L576.39,186.31L586.76,200.09L597.13,213.61L607.5,226.88L617.88,239.9L628.25,252.67L638.62,265.22L648.99,277.53L659.36,279.2L669.73,279.2L680.1,279.2L680.1,30.3L431.2,30.3Z" fill="#00ff28"/>
<path d="M431.2,30.3L441.57,30.3L451.94,30.3L462.31,30.3L472.68,30.3L483.05,46.07L493.43,62.54L503.8,78.7L514.17,94.53L524.54,110.05L534.91,125.27L545.28,140.19L555.65,154.82L566.02,169.17L576.39,183.25L586.76,197.06L597.13,210.6L607.5,223.9L617.88,236.94L628.25,249.74L638.62,262.31L648.99,274.64L659.36,279.2L669.73,279.2L680.1,279.2L680.1,30.3L431.2,30.3Z" fill="#00ff23"/>
<path d="M431.2,30.3L441.57,30.3L451.94,30.3L462.31,30.3L472.68,30.3L483.05,42.77L493.43,59.28L503.8,75.46L514.17,91.32L524.54,106.86L534.91,122.11L545.28,137.06L555.65,151.71L566.02,166.09L576.39,180.19L586.76,194.03L597.13,207.6L607.5,220.92L617.88,233.99L628.25,246.81L638.62,259.4L648.99,271.76L659.36,279.2L669.73,279.2L680.1,279.2L680.1,30.3L431.2,30.3Z" fill="#00ff1d"/>
<path d="M431.2,30.3L441.57,30.3L451.94,30.3L462.31,30.3L472.68,30.3L483.05,39.48L493.43,56.02L503.8,72.22L514.17,88.11L524.54,103.68L534.91,118.95L545.28,133.93L555.65,148.61L566.02,163.01L576.39,177.14L586.76,191L597.13,204.6L607.5,217.94L617.88,231.03L628.25,243.89L638.62,256.5L648.99,268.88L659.36,279.2L669.73,279.2L680.1,279.2L680.1,30.3L431.2,30.3Z" fill="#00ff18"/>
<path d="M431.2,30.3L441.57,30.3L451.94,30.3L462.31,30.3L472.68,30.3L483.05,36.2L493.43,52.76L503.8,68.99L514.17,84.9L524.54,100.5L534.91,115.8L545.28,130.8L555.65,145.51L566.02,159.94L576.39,174.09L586.76,187.98L597.13,201.6L607.5,214.97L617.88,228.08L628.25,240.96L638.62,253.6L648.99,266.01L659.36,278.19L669.73,279.2L680.1,279.2L680.1,30.3L431.2,30.3Z" fill="#00ff13"/>
<path d="M431.2,30.3L441.57,30.3L451.94,30.3L462.31,30.3L472.68,30.3L483.05,32.91L493.43,49.5L503.8,65.76L514.17,81.7L524.54,97.32L534.91,112.65L545.28,127.67L555.65,142.41L566.02,156.86L576.39,171.04L586.76,184.95L597.13,198.6L607.5,211.99L617.88,225.14L628.25,238.04L638.62,250.7L648.99,263.13L659.36,275.34L669.73,279.2L680.1,279.2L680.1,30.3L431.2,30.3Z" fill="#00ff0d"/>
<path d="M431.2,30.3L441.57,30.3L451.94,30.3L462.31,30.3L472.68,30.3L483.05,30.3L493.43,46.24L503.8,62.53L514.17,78.5L524.54,94.15L534.91,109.5L545.28,124.55L555.65,139.31L566.02,153.79L576.39,168L586.76,181.93L597.13,195.61L607.5,209.02L617.88,222.19L628.25,235.12L638.62,247.8L648.99,260.26L659.36,272.49L669.73,279.2L680.1,279.2L680.1,30.3L431.2,30.3Z" fill="#00ff08"/>
<path d="M431.2,30.3L441.57,30.3L451.94,30.3L462.31,30.3L472.68,30.3L483.05,30.3L493.43,42.99L503.8,59.31L514.17,75.3L524.54,90.98L534.91,106.35L545.28,121.43L555.65,136.22L566.02,150.73L576.39,164.96L586.76,178.92L597.13,192.61L607.5,206.06L617.88,219.25L628.25,232.2L638.62,244.91L648.99,257.39L659.36,269.64L669.73,279.2L680.1,279.2L680.1,30.3L431.2,30.3Z" fill="#00ff03"/>
<path d="M431.2,30.3L441.57,30.3L451.94,30.3L462.31,30.3L472.68,30.3L483.05,30.3L493.43,39.75L503.8,56.08L514.17,72.1L524.54,87.81L534.91,103.21L545.28,118.32L555.65,133.13L566.02,147.66L576.39,161.92L586.76,175.9L597.13,189.62L607.5,203.09L617.88,216.31L628.25,229.28L638.62,242.02L648.99,254.52L659.36,266.8L669.73,278.85L680.1,279.2L680.1,30.3L431.2,30.3Z" fill="#03ff00"/>
<path d="M431.2,30.3L441.57,30.3L451.94,30.3L462.31,30.3L472.68,30.3L483.05,30.3L493.43,36.5L503.8,52.87L514.17,68.91L524.54,84.64L534.91,100.07L545.28,115.2L555.65,130.04L566.02,144.6L576.39,158.88L586.76,172.89L597.13,186.64L607.5,200.13L617.88,213.37L628.25,226.37L638.62,239.13L648.99,251.65L659.36,263.95L669.73,276.03L680.1,279.2L680.1,30.3L431.2,30.3Z" fill="#08ff00"/>
<path d="M431.2,30.3L441.57,30.3L451.94,30.3L462.31,30.3L472.68,30.3L483.05,30.3L493.43,33.26L503.8,49.65L514.17,65.72L524.54,81.48L534.91,96.93L545.28,112.09L555.65,126.96L566.02,141.54L576.39,155.84L586.76,169.88L597.13,183.65L607.5,197.17L617.88,210.43L628.25,223.45L638.62,236.24L648.99,248.79L659.36,261.11L669.73,273.21L680.1,279.2L680.1,30.3L431.2,30.3Z" fill="#0dff00"/>
<path d="M431.2,30.3L441.57,30.3L451.94,30.3L462.31,30.3L472.68,30.3L483.05,30.3L493.43,30.3L503.8,46.44L514.17,62.54L524.54,78.32L534.91,93.8L545.28,108.98L555.65,123.87L566.02,138.48L576.39,152.81L586.76,166.87L597.13,180.67L607.5,194.21L617.88,207.5L628.25,220.54L638.62,233.35L648.99,245.92L659.36,258.27L669.73,270.4L680.1,279.2L680.1,30.3L431.2,30.3Z" fill="#13ff00"/>
<path d="M431.2,30.3L441.57,30.3L451.94,30.3L462.31,30.3L472.68,30.3L483.05,30.3L493.43,30.3L503.8,43.23L514.17,59.35L524.54,75.16L534.91,90.67L545.28,105.87L555.65,120.79L566.02,135.42L576.39,149.78L586.76,163.86L597.13,177.69L607.5,191.25L617.88,204.57L628.25,217.64L638.62,230.47L648.99,243.06L659.36,255.44L669.73,267.58L680.1,279.2L680.1,30.3L431.2,30.3Z" fill="#18ff00"/>
<path d="M431.2,30.3L441.57,30.3L451.94,30.3L462.31,30.3L472.68,30.3L483.05,30.3L493.43,30.3L503.8,40.02L514.17,56.17L524.54,72.01L534.91,87.54L545.28,102.77L555.65,117.71L566.02,132.37L576.39,146.75L586.76,160.86L597.13,174.71L607.5,188.3L617.88,201.64L628.25,214.73L638.62,227.58L648.99,240.21L659.36,252.6L669.73,264.77L680.1,276.73L680.1,30.3L431.2,30.3Z" fill="#1dff00"/>
<path d="M431.2,30.3L441.57,30.3L451.94,30.3L462.31,30.3L472.68,30.3L483.05,30.3L493.43,30.3L503.8,36.82L514.17,52.99L524.54,68.85L534.91,84.41L545.28,99.67L555.65,114.64L566.02,129.32L576.39,143.73L586.76,157.86L597.13,171.73L607.5,185.35L617.88,198.71L628.25,211.83L638.62,224.7L648.99,237.35L659.36,249.77L669.73,261.96L680.1,273.94L680.1,30.3L431.2,30.3Z" fill="#23ff00"/>
<path d="M431.2,30.3L441.57,30.3L451.94,30.3L462.31,30.3L472.68,30.3L483.05,30.3L493.43,30.3L503.8,33.61L514.17,49.82L524.54,65.7L534.91,81.29L545.28,96.57L555.65,111.56L566.02,126.27L576.39,140.7L586.76,154.86L597.13,168.76L607.5,182.4L617.88,195.78L628.25,208.92L638.62,221.83L648.99,234.49L659.36,246.94L669.73,259.15L680.1,271.15L680.1,30.3L431.2,30.3Z" fill="#28ff00"/>
<path d="M431.2,30.3L441.57,30.3L451.94,30.3L462.31,30.3L472.68,30.3L483.05,30.3L493.43,30.3L503.8,30.42L514.17,46.64L524.54,62.56L534.91,78.17L545.28,93.47L555.65,108.49L566.02,123.23L576.39,137.68L586.76,151.87L597.13,165.79L607.5,179.45L617.88,192.86L628.25,206.02L638.62,218.95L648.99,231.64L659.36,244.11L669.73,256.35L680.1,268.37L680.1,30.3L431.2,30.3Z" fill="#2dff00"/>
<path d="M431.2,30.3L441.57,30.3L451.94,30.3L462.31,30.3L472.68,30.3L483.05,30.3L493.43,30.3L503.8,30.3L514.17,43.47L524.54,59.41L534.91,75.05L545.28,90.38L555.65,105.42L566.02,120.18L576.39,134.66L586.76,148.87L597.13,162.82L607.5,176.5L617.88,189.94L628.25,203.13L638.62,216.08L648.99,228.79L659.36,241.28L669.73,253.54L680.1,265.59L680.1,30.3L431.2,30.3Z" fill="#32ff00"/>
<path d="M431.2,30.3L441.57,30.3L451.94,30.3L462.31,30.3L472.68,30.3L483.05,30.3L493.43,30.3L503.8,30.3L514.17,40.31L524.54,56.27L534.91,71.93L545.28,87.29L555.65,102.36L566.02,117.14L576.39,131.65L586.76,145.88L597.13,159.85L607.5,173.56L617.88,187.02L628.25,200.23L638.62,213.2L648.99,225.94L659.36,238.45L669.73,250.74L680.1,262.81L680.1,30.3L431.2,30.3Z" fill="#38ff00"/>
<path d="M431.2,30.3L441.57,30.3L451.94,30.3L462.31,30.3L472.68,30.3L483.05,30.3L493.43,30.3L503.8,30.3L514.17,37.14L524.54,53.13L534.91,68.82L545.28,84.2L555.65,99.29L566.02,114.1L576.39,128.63L586.76,142.89L597.13,156.88L607.5,170.62L617.88,184.1L628.25,197.34L638.62,210.33L648.99,223.1L659.36,235.63L669.73,247.94L680.1,260.03L680.1,30.3L431.2,30.3Z" fill="#3dff00"/>
<path d="M431.2,30.3L441.57,30.3L451.94,30.3L462.31,30.3L472.68,30.3L483.05,30.3L493.43,30.3L503.8,30.3L514.17,33.98L524.54,50L534.91,65.71L545.28,81.12L555.65,96.23L566.02,111.07L576.39,125.62L586.76,139.9L597.13,153.92L607.5,167.68L617.88,181.19L628.25,194.45L638.62,207.47L648.99,220.25L659.36,232.81L669.73,245.14L680.1,257.26L680.1,30.3L431.2,30.3Z" fill="#42ff00"/>
<path d="M431.2,30.3L441.57,30.3L451.94,30.3L462.31,30.3L472.68,30.3L483.05,30.3L493.43,30.3L503.8,30.3L514.17,30.82L524.54,46.86L534.91,62.6L545.28,78.03L555.65,93.18L566.02,108.03L576.39,122.61L586.76,136.92L597.13,150.96L607.5,164.74L617.88,178.27L628.25,191.56L638.62,204.6L648.99,217.41L659.36,229.99L669.73,242.34L680.1,254.48L680.1,30.3L431.2,30.3Z" fill="#48ff00"/>
<path d="M431.2,30.3L441.57,30.3L451.94,30.3L462.31,30.3L472.68,30.3L483.05,30.3L493.43,30.3L503.8,30.3L514.17,30.3L524.54,43.73L534.91,59.49L545.28,74.95L555.65,90.12L566.02,105L576.39,119.6L586.76,133.94L597.13,148L607.5,161.81L617.88,175.36L628.25,188.67L638.62,201.74L648.99,214.57L659.36,227.17L669.73,239.55L680.1,251.71L680.1,30.3L431.2,30.3Z" fill="#4dff00"/>
<path d="M431.2,30.3L441.57,30.3L451.94,30.3L462.31,30.3L472.68,30.3L483.05,30.3L493.43,30.3L503.8,30.3L514.17,30.3L524.54,40.6L534.91,56.39L545.28,71.87L555.65,87.07L566.02,101.97L576.39,116.6L586.76,130.96L597.13,145.05L607.5,158.88L617.88,172.45L628.25,185.79L638.62,198.88L648.99,211.73L659.36,224.35L669.73,236.76L680.1,248.94L680.1,30.3L431.2,30.3Z" fill="#52ff00"/>
<path d="M431.2,30.3L441.57,30.3L451.94,30.3L462.31,30.3L472.68,30.3L483.05,30.3L493.43,30.3L503.8,30.3L514.17,30.3L524.54,37.48L534.91,53.29L545.28,68.8L555.65,84.01L566.02,98.95L576.39,113.6L586.76,127.98L597.13,142.09L607.5,155.95L617.88,169.55L628.25,182.9L638.62,196.02L648.99,208.89L659.36,221.54L669.73,233.96L680.1,246.17L680.1,30.3L431.2,30.3Z" fill="#58ff00"/>
<path d="M431.2,30.3L441.57,30.3L451.94,30.3L462.31,30.3L472.68,30.3L483.05,30.3L493.43,30.3L503.8,30.3L514.17,30.3L524.54,34.35L534.91,50.19L545.28,65.72L555.65,80.97L566.02,95.92L576.39,110.6L586.76,125L597.13,139.14L607.5,153.02L617.88,166.64L628.25,180.02L638.62,193.16L648.99,206.06L659.36,218.73L669.73,231.17L680.1,243.4L680.1,30.3L431.2,30.3Z" fill="#5dff00"/>
<path d="M431.2,30.3L441.57,30.3L451.94,30.3L462.31,30.3L472.68,30.3L483.05,30.3L493.43,30.3L503.8,30.3L514.17,30.3L524.54,31.23L534.91,47.09L545.28,62.65L555.65,77.92L566.02,92.9L576.39,107.6L586.76,122.03L597.13,136.19L607.5,150.09L617.88,163.74L628.25,177.14L638.62,190.3L648.99,203.23L659.36,215.92L669.73,228.39L680.1,240.64L680.1,30.3L431.2,30.3Z" fill="#62ff00"/>
<path d="M431.2,30.3L441.57,30.3L451.94,30.3L462.31,30.3L472.68,30.3L483.05,30.3L493.43,30.3L503.8,30.3L514.17,30.3L524.54,30.3L534.91,44L545.28,59.59L555.65,74.88L566.02,89.88L576.39,104.61L586.76,119.06L597.13,133.24L607.5,147.17L617.88,160.84L628.25,174.27L638.62,187.45L648.99,200.39L659.36,213.11L669.73,225.6L680.1,237.87L680.1,30.3L431.2,30.3Z" fill="#68ff00"/>
<path d="M431.2,30.3L441.57,30.3L451.94,30.3L462.31,30.3L472.68,30.3L483.05,30.3L493.43,30.3L503.8,30.3L514.17,30.3L524.54,30.3L534.91,40.91L545.28,56.52L555.65,71.83L566.02,86.86L576.39,101.61L586.76,116.09L597.13,130.3L607.5,144.25L617.88,157.94L628.25,171.39L638.62,184.6L648.99,197.57L659.36,210.3L669.73,222.82L680.1,235.11L680.1,30.3L431.2,30.3Z" fill="#6dff00"/>
<path d="M431.2,30.3L441.57,30.3L451.94,30.3L462.31,30.3L472.68,30.3L483.05,30.3L493.43,30.3L503.8,30.3L514.17,30.3L524.54,30.3L534.91,37.82L545.28,53.46L555.65,68.8L566.02,83.85L576.39,98.62L586.76,113.12L597.13,127.36L607.5,141.33L617.88,155.05L628.25,168.52L638.62,181.75L648.99,194.74L659.36,207.5L669.73,220.04L680.1,232.35L680.1,30.3L431.2,30.3Z" fill="#72ff00"/>
<path d="M431.2,30.3L441.57,30.3L451.94,30.3L462.31,30.3L472.68,30.3L483.05,30.3L493.43,30.3L503.8,30.3L514.17,30.3L524.54,30.3L534.91,34.74L545.28,50.4L555.65,65.76L566.02,80.84L576.39,95.63L586.76,110.16L597.13,124.42L607.5,138.41L617.88,152.15L628.25,165.65L638.62,178.9L648.99,191.91L659.36,204.7L669.73,217.26L680.1,229.59L680.1,30.3L431.2,30.3Z" fill="#78ff00"/>
<path d="M431.2,30.3L441.57,30.3L451.94,30.3L462.31,30.3L472.68,30.3L483.05,30.3L493.43,30.3L503.8,30.3L514.17,30.3L524.54,30.3L534.91,31.65L545.28,47.34L555.65,62.73L566.02,77.83L576.39,92.65L586.76,107.2L597.13,121.48L607.5,135.5L617.88,149.26L628.25,162.78L638.62,176.05L648.99,189.09L659.36,201.9L669.73,214.48L680.1,226.84L680.1,30.3L431.2,30.3Z" fill="#7dff00"/>
<path d="M431.2,30.3L441.57,30.3L451.94,30.3L462.31,30.3L472.68,30.3L483.05,30.3L493.43,30.3L503.8,30.3L514.17,30.3L524.54,30.3L534.91,30.3L545.28,44.28L555.65,59.69L566.02,74.82L576.39,89.66L586.76,104.24L597.13,118.54L607.5,132.58L617.88,146.37L628.25,159.91L638.62,173.21L648.99,186.27L659.36,199.1L669.73,211.7L680.1,224.08L680.1,30.3L431.2,30.3Z" fill="#82ff00"/>
<path d="M431.2,30.3L441.57,30.3L451.94,30.3L462.31,30.3L472.68,30.3L483.05,30.3L493.43,30.3L503.8,30.3L514.17,30.3L524.54,30.3L534.91,30.3L545.28,41.23L555.65,56.66L566.02,71.81L576.39,86.68L586.76,101.28L597.13,115.61L607.5,129.67L617.88,143.49L628.25,157.05L638.62,170.37L648.99,183.45L659.36,196.3L669.73,208.93L680.1,221.33L680.1,30.3L431.2,30.3Z" fill="#87ff00"/>
<path d="M431.2,30.3L441.57,30.3L451.94,30.3L462.31,30.3L472.68,30.3L483.05,30.3L493.43,30.3L503.8,30.3L514.17,30.3L524.54,30.3L534.91,30.3L545.28,38.18L555.65,53.64L566.02,68.81L576.39,83.7L586.76,98.32L597.13,112.68L607.5,126.77L617.88,140.6L628.25,154.19L638.62,167.53L648.99,180.63L659.36,193.51L669.73,206.15L680.1,218.58L680.1,30.3L431.2,30.3Z" fill="#8dff00"/>
<path d="M431.2,30.3L441.57,30.3L451.94,30.3L462.31,30.3L472.68,30.3L483.05,30.3L493.43,30.3L503.8,30.3L514.17,30.3L524.54,30.3L534.91,30.3L545.28,35.13L555.65,50.61L566.02,65.81L576.39,80.73L586.76,95.37L597.13,109.75L607.5,123.86L617.88,137.72L628.25,151.33L638.62,164.69L648.99,177.82L659.36,190.71L669.73,203.38L680.1,215.83L680.1,30.3L431.2,30.3Z" fill="#92ff00"/>
<path d="M431.2,30.3L441.57,30.3L451.94,30.3L462.31,30.3L472.68,30.3L483.05,30.3L493.43,30.3L503.8,30.3L514.17,30.3L524.54,30.3L534.91,30.3L545.28,32.08L555.65,47.59L566.02,62.81L576.39,77.75L586.76,92.42L597.13,106.82L607.5,120.95L617.88,134.84L628.25,148.47L638.62,161.85L648.99,175.01L659.36,187.92L669.73,200.61L680.1,213.08L680.1,30.3L431.2,30.3Z" fill="#97ff00"/>
<path d="M431.2,30.3L441.57,30.3L451.94,30.3L462.31,30.3L472.68,30.3L483.05,30.3L493.43,30.3L503.8,30.3L514.17,30.3L524.54,30.3L534.91,30.3L545.28,30.3L555.65,44.57L566.02,59.82L576.39,74.78L586.76,89.47L597.13,103.89L607.5,118.05L617.88,131.96L628.25,145.61L638.62,159.02L648.99,172.19L659.36,185.13L669.73,197.85L680.1,210.34L680.1,30.3L431.2,30.3Z" fill="#9dff00"/>
<path d="M431.2,30.3L441.57,30.3L451.94,30.3L462.31,30.3L472.68,30.3L483.05,30.3L493.43,30.3L503.8,30.3L514.17,30.3L524.54,30.3L534.91,30.3L545.28,30.3L555.65,41.55L566.02,56.82L576.39,71.81L586.76,86.52L597.13,100.97L607.5,115.15L617.88,129.08L628.25,142.76L638.62,156.19L648.99,169.38L659.36,182.35L669.73,195.08L680.1,207.59L680.1,30.3L431.2,30.3Z" fill="#a2ff00"/>
<path d="M431.2,30.3L441.57,30.3L451.94,30.3L462.31,30.3L472.68,30.3L483.05,30.3L493.43,30.3L503.8,30.3L514.17,30.3L524.54,30.3L534.91,30.3L545.28,30.3L555.65,38.54L566.02,53.83L576.39,68.84L586.76,83.58L597.13,98.05L607.5,112.25L617.88,126.2L628.25,139.9L638.62,153.36L648.99,166.58L659.36,179.56L669.73,192.32L680.1,204.85L680.1,30.3L431.2,30.3Z" fill="#a7ff00"/>
<path d="M431.2,30.3L441.57,30.3L451.94,30.3L462.31,30.3L472.68,30.3L483.05,30.3L493.43,30.3L503.8,30.3L514.17,30.3L524.54,30.3L534.91,30.3L545.28,30.3L555.65,35.53L566.02,50.84L576.39,65.88L586.76,80.64L597.13,95.13L607.5,109.36L617.88,123.33L628.25,137.05L638.62,150.53L648.99,163.77L659.36,176.78L669.73,189.56L680.1,202.11L680.1,30.3L431.2,30.3Z" fill="#adff00"/>
<path d="M431.2,30.3L441.57,30.3L451.94,30.3L462.31,30.3L472.68,30.3L483.05,30.3L493.43,30.3L503.8,30.3L514.17,30.3L524.54,30.3L534.91,30.3L545.28,30.3L555.65,32.52L566.02,47.86L576.39,62.92L586.76,77.7L597.13,92.21L607.5,106.46L617.88,120.46L628.25,134.2L638.62,147.71L648.99,160.97L659.36,174L669.73,186.8L680.1,199.37L680.1,30.3L431.2,30.3Z" fill="#b2ff00"/>
<path d="M431.2,30.3L441.57,30.3L451.94,30.3L462.31,30.3L472.68,30.3L483.05,30.3L493.43,30.3L503.8,30.3L514.17,30.3L524.54,30.3L534.91,30.3L545.28,30.3L555.65,30.3L566.02,44.87L576.39,59.95L586.76,74.76L597.13,89.3L607.5,103.57L617.88,117.59L628.25,131.36L638.62,144.88L648.99,158.17L659.36,171.22L669.73,184.04L680.1,196.64L680.1,30.3L431.2,30.3Z" fill="#b7ff00"/>
<path d="M431.2,30.3L441.57,30.3L451.94,30.3L462.31,30.3L472.68,30.3L483.05,30.3L493.43,30.3L503.8,30.3L514.17,30.3L524.54,30.3L534.91,30.3L545.28,30.3L555.65,30.3L566.02,41.89L576.39,57L586.76,71.83L597.13,86.39L607.5,100.68L617.88,114.72L628.25,128.51L638.62,142.06L648.99,155.37L659.36,168.44L669.73,181.28L680.1,193.9L680.1,30.3L431.2,30.3Z" fill="#bdff00"/>
<path d="M431.2,30.3L441.57,30.3L451.94,30.3L462.31,30.3L472.68,30.3L483.05,30.3L493.43,30.3L503.8,30.3L514.17,30.3L524.54,30.3L534.91,30.3L545.28,30.3L555.65,30.3L566.02,38.91L576.39,54.04L586.76,68.89L597.13,83.48L607.5,97.8L617.88,111.86L628.25,125.67L638.62,139.24L648.99,152.57L659.36,165.66L669.73,178.53L680.1,191.17L680.1,30.3L431.2,30.3Z" fill="#c2ff00"/>
<path d="M431.2,30.3L441.57,30.3L451.94,30.3L462.31,30.3L472.68,30.3L483.05,30.3L493.43,30.3L503.8,30.3L514.17,30.3L524.54,30.3L534.91,30.3L545.28,30.3L555.65,30.3L566.02,35.93L576.39,51.08L586.76,65.96L597.13,80.57L607.5,94.91L617.88,109L628.25,122.83L638.62,136.42L648.99,149.77L659.36,162.89L669.73,175.78L680.1,188.44L680.1,30.3L431.2,30.3Z" fill="#c7ff00"/>
<path d="M431.2,30.3L441.57,30.3L451.94,30.3L462.31,30.3L472.68,30.3L483.05,30.3L493.43,30.3L503.8,30.3L514.17,30.3L524.54,30.3L534.91,30.3L545.28,30.3L555.65,30.3L566.02,32.96L576.39,48.13L586.76,63.03L597.13,77.66L607.5,92.03L617.88,106.14L628.25,119.99L638.62,133.6L648.99,146.98L659.36,160.11L669.73,173.02L680.1,185.71L680.1,30.3L431.2,30.3Z" fill="#cdff00"/>
<path d="M431.2,30.3L441.57,30.3L451.94,30.3L462.31,30.3L472.68,30.3L483.05,30.3L493.43,30.3L503.8,30.3L514.17,30.3L524.54,30.3L534.91,30.3L545.28,30.3L555.65,30.3L566.02,30.3L576.39,45.18L586.76,60.11L597.13,74.76L607.5,89.15L617.88,103.28L628.25,117.16L638.62,130.79L648.99,144.18L659.36,157.34L669.73,170.28L680.1,182.98L680.1,30.3L431.2,30.3Z" fill="#d2ff00"/>
<path d="M431.2,30.3L441.57,30.3L451.94,30.3L462.31,30.3L472.68,30.3L483.05,30.3L493.43,30.3L503.8,30.3L514.17,30.3L524.54,30.3L534.91,30.3L545.28,30.3L555.65,30.3L566.02,30.3L576.39,42.24L586.76,57.18L597.13,71.86L607.5,86.27L617.88,100.42L628.25,114.32L638.62,127.98L648.99,141.39L659.36,154.58L669.73,167.53L680.1,180.26L680.1,30.3L431.2,30.3Z" fill="#d7ff00"/>
<path d="M431.2,30.3L441.57,30.3L451.94,30.3L462.31,30.3L472.68,30.3L483.05,30.3L493.43,30.3L503.8,30.3L514.17,30.3L524.54,30.3L534.91,30.3L545.28,30.3L555.65,30.3L566.02,30.3L576.39,39.29L586.76,54.26L597.13,68.96L607.5,83.39L617.88,97.57L628.25,111.49L638.62,125.17L648.99,138.61L659.36,151.81L669.73,164.78L680.1,177.53L680.1,30.3L431.2,30.3Z" fill="#dcff00"/>
<path d="M431.2,30.3L441.57,30.3L451.94,30.3L462.31,30.3L472.68,30.3L483.05,30.3L493.43,30.3L503.8,30.3L514.17,30.3L524.54,30.3L534.91,30.3L545.28,30.3L555.65,30.3L566.02,30.3L576.39,36.35L586.76,51.34L597.13,66.06L607.5,80.51L617.88,94.71L628.25,108.66L638.62,122.36L648.99,135.82L659.36,149.04L669.73,162.04L680.1,174.81L680.1,30.3L431.2,30.3Z" fill="#e2ff00"/>
<path d="M431.2,30.3L441.57,30.3L451.94,30.3L462.31,30.3L472.68,30.3L483.05,30.3L493.43,30.3L503.8,30.3L514.17,30.3L524.54,30.3L534.91,30.3L545.28,30.3L555.65,30.3L566.02,30.3L576.39,33.41L586.76,48.42L597.13,63.16L607.5,77.64L617.88,91.86L628.25,105.83L638.62,119.55L648.99,133.03L659.36,146.28L669.73,159.3L680.1,172.09L680.1,30.3L431.2,30.3Z" fill="#e7ff00"/>
<path d="M431.2,30.3L441.57,30.3L451.94,30.3L462.31,30.3L472.68,30.3L483.05,30.3L493.43,30.3L503.8,30.3L514.17,30.3L524.54,30.3L534.91,30.3L545.28,30.3L555.65,30.3L566.02,30.3L576.39,30.47L586.76,45.5L597.13,60.27L607.5,74.77L617.88,89.01L628.25,103L638.62,116.75L648.99,130.25L659.36,143.52L669.73,156.56L680.1,169.37L680.1,30.3L431.2,30.3Z" fill="#ecff00"/>
<path d="M431.2,30.3L441.57,30.3L451.94,30.3L462.31,30.3L472.68,30.3L483.05,30.3L493.43,30.3L503.8,30.3L514.17,30.3L524.54,30.3L534.91,30.3L545.28,30.3L555.65,30.3L566.02,30.3L576.39,30.3L586.76,42.59L597.13,57.38L607.5,71.9L617.88,86.17L628.25,100.18L638.62,113.94L648.99,127.47L659.36,140.76L669.73,153.82L680.1,166.65L680.1,30.3L431.2,30.3Z" fill="#f2ff00"/>
<path d="M431.2,30.3L441.57,30.3L451.94,30.3L462.31,30.3L472.68,30.3L483.05,30.3L493.43,30.3L503.8,30.3L514.17,30.3L524.54,30.3L534.91,30.3L545.28,30.3L555.65,30.3L566.02,30.3L576.39,30.3L586.76,39.68L597.13,54.49L607.5,69.03L617.88,83.32L628.25,97.36L638.62,111.14L648.99,124.69L659.36,138L669.73,151.08L680.1,163.94L680.1,30.3L431.2,30.3Z" fill="#f7ff00"/>
<path d="M431.2,30.3L441.57,30.3L451.94,30.3L462.31,30.3L472.68,30.3L483.05,30.3L493.43,30.3L503.8,30.3L514.17,30.3L524.54,30.3L534.91,30.3L545.28,30.3L555.65,30.3L566.02,30.3L576.39,30.3L586.76,36.77L597.13,51.6L607.5,66.17L617.88,80.48L628.25,94.53L638.62,108.34L648.99,121.91L659.36,135.24L669.73,148.35L680.1,161.22L680.1,30.3L431.2,30.3Z" fill="#fcff00"/>
<path d="M431.2,30.3L441.57,30.3L451.94,30.3L462.31,30.3L472.68,30.3L483.05,30.3L493.43,30.3L503.8,30.3L514.17,30.3L524.54,30.3L534.91,30.3L545.28,30.3L555.65,30.3L566.02,30.3L576.39,30.3L586.76,33.86L597.13,48.72L607.5,63.31L617.88,77.64L628.25,91.72L638.62,105.55L648.99,119.14L659.36,132.49L669.73,145.61L680.1,158.51L680.1,30.3L431.2,30.3Z" fill="#fffc00"/>
<path d="M431.2,30.3L441.57,30.3L451.94,30.3L462.31,30.3L472.68,30.3L483.05,30.3L493.43,30.3L503.8,30.3L514.17,30.3L524.54,30.3L534.91,30.3L545.28,30.3L555.65,30.3L566.02,30.3L576.39,30.3L586.76,30.96L597.13,45.83L607.5,60.45L617.88,74.8L628.25,88.9L638.62,102.75L648.99,116.36L659.36,129.74L669.73,142.88L680.1,155.8L680.1,30.3L431.2,30.3Z" fill="#fff700"/>
<path d="M431.2,30.3L441.57,30.3L451.94,30.3L462.31,30.3L472.68,30.3L483.05,30.3L493.43,30.3L503.8,30.3L514.17,30.3L524.54,30.3L534.91,30.3L545.28,30.3L555.65,30.3L566.02,30.3L576.39,30.3L586.76,30.3L597.13,42.95L607.5,57.59L617.88,71.96L628.25,86.08L638.62,99.96L648.99,113.59L659.36,126.99L669.73,140.15L680.1,153.09L680.1,30.3L431.2,30.3Z" fill="#fff200"/>
<path d="M431.2,30.3L441.57,30.3L451.94,30.3L462.31,30.3L472.68,30.3L483.05,30.3L493.43,30.3L503.8,30.3L514.17,30.3L524.54,30.3L534.91,30.3L545.28,30.3L555.65,30.3L566.02,30.3L576.39,30.3L586.76,30.3L597.13,40.07L607.5,54.73L617.88,69.13L628.25,83.27L638.62,97.17L648.99,110.82L659.36,124.24L669.73,137.43L680.1,150.39L680.1,30.3L431.2,30.3Z" fill="#ffec00"/>
<path d="M431.2,30.3L441.57,30.3L451.94,30.3L462.31,30.3L472.68,30.3L483.05,30.3L493.43,30.3L503.8,30.3L514.17,30.3L524.54,30.3L534.91,30.3L545.28,30.3L555.65,30.3L566.02,30.3L576.39,30.3L586.76,30.3L597.13,37.2L607.5,51.87L617.88,66.29L628.25,80.46L638.62,94.38L648.99,108.05L659.36,121.49L669.73,134.7L680.1,147.68L680.1,30.3L431.2,30.3Z" fill="#ffe700"/>
<path d="M431.2,30.3L441.57,30.3L451.94,30.3L462.31,30.3L472.68,30.3L483.05,30.3L493.43,30.3L503.8,30.3L514.17,30.3L524.54,30.3L534.91,30.3L545.28,30.3L555.65,30.3L566.02,30.3L576.39,30.3L586.76,30.3L597.13,34.32L607.5,49.02L617.88,63.46L628.25,77.65L638.62,91.59L648.99,105.29L659.36,118.75L669.73,131.97L680.1,144.98L680.1,30.3L431.2,30.3Z" fill="#ffe200"/>
<path d="M431.2,30.3L441.57,30.3L451.94,30.3L462.31,30.3L472.68,30.3L483.05,30.3L493.43,30.3L503.8,30.3L514.17,30.3L524.54,30.3L534.91,30.3L545.28,30.3L555.65,30.3L566.02,30.3L576.39,30.3L586.76,30.3L597.13,31.45L607.5,46.17L617.88,60.63L628.25,74.84L638.62,88.8L648.99,102.52L659.36,116L669.73,129.25L680.1,142.28L680.1,30.3L431.2,30.3Z" fill="#ffdc00"/>
<path d="M431.2,30.3L441.57,30.3L451.94,30.3L462.31,30.3L472.68,30.3L483.05,30.3L493.43,30.3L503.8,30.3L514.17,30.3L524.54,30.3L534.91,30.3L545.28,30.3L555.65,30.3L566.02,30.3L576.39,30.3L586.76,30.3L597.13,30.3L607.5,43.32L617.88,57.81L628.25,72.04L638.62,86.02L648.99,99.76L659.36,113.26L669.73,126.53L680.1,139.58L680.1,30.3L431.2,30.3Z" fill="#ffd700"/>
<path d="M431.2,30.3L441.57,30.3L451.94,30.3L462.31,30.3L472.68,30.3L483.05,30.3L493.43,30.3L503.8,30.3L514.17,30.3L524.54,30.3L534.91,30.3L545.28,30.3L555.65,30.3L566.02,30.3L576.39,30.3L586.76,30.3L597.13,30.3L607.5,40.48L617.88,54.98L628.25,69.23L638.62,83.24L648.99,97L659.36,110.52L669.73,123.81L680.1,136.88L680.1,30.3L431.2,30.3Z" fill="#ffd200"/>
<path d="M431.2,30.3L441.57,30.3L451.94,30.3L462.31,30.3L472.68,30.3L483.05,30.3L493.43,30.3L503.8,30.3L514.17,30.3L524.54,30.3L534.91,30.3L545.28,30.3L555.65,30.3L566.02,30.3L576.39,30.3L586.76,30.3L597.13,30.3L607.5,37.63L617.88,52.16L628.25,66.43L638.62,80.46L648.99,94.24L659.36,107.78L669.73,121.1L680.1,134.18L680.1,30.3L431.2,30.3Z" fill="#ffcd00"/>
<path d="M431.2,30.3L441.57,30.3L451.94,30.3L462.31,30.3L472.68,30.3L483.05,30.3L493.43,30.3L503.8,30.3L514.17,30.3L524.54,30.3L534.91,30.3L545.28,30.3L555.65,30.3L566.02,30.3L576.39,30.3L586.76,30.3L597.13,30.3L607.5,34.79L617.88,49.34L628.25,63.63L638.62,77.68L648.99,91.48L659.36,105.05L669.73,118.38L680.1,131.49L680.1,30.3L431.2,30.3Z" fill="#ffc700"/>
<path d="M431.2,30.3L441.57,30.3L451.94,30.3L462.31,30.3L472.68,30.3L483.05,30.3L493.43,30.3L503.8,30.3L514.17,30.3L524.54,30.3L534.91,30.3L545.28,30.3L555.65,30.3L566.02,30.3L576.39,30.3L586.76,30.3L597.13,30.3L607.5,31.95L617.88,46.52L628.25,60.83L638.62,74.9L648.99,88.73L659.36,102.31L669.73,115.67L680.1,128.79L680.1,30.3L431.2,30.3Z" fill="#ffc200"/>
<path d="M431.2,30.3L441.57,30.3L451.94,30.3L462.31,30.3L472.68,30.3L483.05,30.3L493.43,30.3L503.8,30.3L514.17,30.3L524.54,30.3L534.91,30.3L545.28,30.3L555.65,30.3L566.02,30.3L576.39,30.3L586.76,30.3L597.13,30.3L607.5,30.3L617.88,43.7L628.25,58.04L638.62,72.13L648.99,85.97L659.36,99.58L669.73,112.95L680.1,126.1L680.1,30.3L431.2,30.3Z" fill="#ffbd00"/>
<path d="M431.2,30.3L441.57,30.3L451.94,30.3L462.31,30.3L472.68,30.3L483.05,30.3L493.43,30.3L503.8,30.3L514.17,30.3L524.54,30.3L534.91,30.3L545.28,30.3L555.65,30.3L566.02,30.3L576.39,30.3L586.76,30.3L597.13,30.3L607.5,30.3L617.88,40.89L628.25,55.24L638.62,69.35L648.99,83.22L659.36,96.85L669.73,110.24L680.1,123.41L680.1,30.3L431.2,30.3Z" fill="#ffb700"/>
<path d="M431.2,30.3L441.57,30.3L451.94,30.3L462.31,30.3L472.68,30.3L483.05,30.3L493.43,30.3L503.8,30.3L514.17,30.3L524.54,30.3L534.91,30.3L545.28,30.3L555.65,30.3L566.02,30.3L576.39,30.3L586.76,30.3L597.13,30.3L607.5,30.3L617.88,38.07L628.25,52.45L638.62,66.58L648.99,80.47L659.36,94.12L669.73,107.53L680.1,120.72L680.1,30.3L431.2,30.3Z" fill="#ffb200"/>
<path d="M431.2,30.3L441.57,30.3L451.94,30.3L462.31,30.3L472.68,30.3L483.05,30.3L493.43,30.3L503.8,30.3L514.17,30.3L524.54,30.3L534.91,30.3L545.28,30.3L555.65,30.3L566.02,30.3L576.39,30.3L586.76,30.3L597.13,30.3L607.5,30.3L617.88,35.26L628.25,49.66L638.62,63.81L648.99,77.72L659.36,91.39L669.73,104.83L680.1,118.04L680.1,30.3L431.2,30.3Z" fill="#ffad00"/>
<path d="M431.2,30.3L441.57,30.3L451.94,30.3L462.31,30.3L472.68,30.3L483.05,30.3L493.43,30.3L503.8,30.3L514.17,30.3L524.54,30.3L534.91,30.3L545.28,30.3L555.65,30.3L566.02,30.3L576.39,30.3L586.76,30.3L597.13,30.3L607.5,30.3L617.88,32.45L628.25,46.87L638.62,61.05L648.99,74.97L659.36,88.67L669.73,102.12L680.1,115.35L680.1,30.3L431.2,30.3Z" fill="#ffa700"/>
<path d="M431.2,30.3L441.57,30.3L451.94,30.3L462.31,30.3L472.68,30.3L483.05,30.3L493.43,30.3L503.8,30.3L514.17,30.3L524.54,30.3L534.91,30.3L545.28,30.3L555.65,30.3L566.02,30.3L576.39,30.3L586.76,30.3L597.13,30.3L607.5,30.3L617.88,30.3L628.25,44.09L638.62,58.28L648.99,72.23L659.36,85.94L669.73,99.42L680.1,112.67L680.1,30.3L431.2,30.3Z" fill="#ffa200"/>
<path d="M431.2,30.3L441.57,30.3L451.94,30.3L462.31,30.3L472.68,30.3L483.05,30.3L493.43,30.3L503.8,30.3L514.17,30.3L524.54,30.3L534.91,30.3L545.28,30.3L555.65,30.3L566.02,30.3L576.39,30.3L586.76,30.3L597.13,30.3L607.5,30.3L617.88,30.3L628.25,41.3L638.62,55.52L648.99,69.49L659.36,83.22L669.73,96.72L680.1,109.99L680.1,30.3L431.2,30.3Z" fill="#ff9d00"/>
<path d="M431.2,30.3L441.57,30.3L451.94,30.3L462.31,30.3L472.68,30.3L483.05,30.3L493.43,30.3L503.8,30.3L514.17,30.3L524.54,30.3L534.91,30.3L545.28,30.3L555.65,30.3L566.02,30.3L576.39,30.3L586.76,30.3L597.13,30.3L607.5,30.3L617.88,30.3L628.25,38.52L638.62,52.75L648.99,66.75L659.36,80.5L669.73,94.02L680.1,107.31L680.1,30.3L431.2,30.3Z" fill="#ff9700"/>
<path d="M431.2,30.3L441.57,30.3L451.94,30.3L462.31,30.3L472.68,30.3L483.05,30.3L493.43,30.3L503.8,30.3L514.17,30.3L524.54,30.3L534.91,30.3L545.28,30.3L555.65,30.3L566.02,30.3L576.39,30.3L586.76,30.3L597.13,30.3L607.5,30.3L617.88,30.3L628.25,35.74L638.62,49.99L648.99,64.01L659.36,77.78L669.73,91.32L680.1,104.63L680.1,30.3L431.2,30.3Z" fill="#ff9200"/>
<path d="M431.2,30.3L441.57,30.3L451.94,30.3L462.31,30.3L472.68,30.3L483.05,30.3L493.43,30.3L503.8,30.3L514.17,30.3L524.54,30.3L534.91,30.3L545.28,30.3L555.65,30.3L566.02,30.3L576.39,30.3L586.76,30.3L597.13,30.3L607.5,30.3L617.88,30.3L628.25,32.96L638.62,47.24L648.99,61.27L659.36,75.06L669.73,88.62L680.1,101.95L680.1,30.3L431.2,30.3Z" fill="#ff8d00"/>
<path d="M431.2,30.3L441.57,30.3L451.94,30.3L462.31,30.3L472.68,30.3L483.05,30.3L493.43,30.3L503.8,30.3L514.17,30.3L524.54,30.3L534.91,30.3L545.28,30.3L555.65,30.3L566.02,30.3L576.39,30.3L586.76,30.3L597.13,30.3L607.5,30.3L617.88,30.3L628.25,30.3L638.62,44.48L648.99,58.53L659.36,72.35L669.73,85.93L680.1,99.28L680.1,30.3L431.2,30.3Z" fill="#ff8700"/>
<path d="M431.2,30.3L441.57,30.3L451.94,30.3L462.31,30.3L472.68,30.3L483.05,30.3L493.43,30.3L503.8,30.3L514.17,30.3L524.54,30.3L534.91,30.3L545.28,30.3L555.65,30.3L566.02,30.3L576.39,30.3L586.76,30.3L597.13,30.3L607.5,30.3L617.88,30.3L628.25,30.3L638.62,41.72L648.99,55.8L659.36,69.63L669.73,83.23L680.1,96.6L680.1,30.3L431.2,30.3Z" fill="#ff8200"/>
<path d="M431.2,30.3L441.57,30.3L451.94,30.3L462.31,30.3L472.68,30.3L483.05,30.3L493.43,30.3L503.8,30.3L514.17,30.3L524.54,30.3L534.91,30.3L545.28,30.3L555.65,30.3L566.02,30.3L576.39,30.3L586.76,30.3L597.13,30.3L607.5,30.3L617.88,30.3L628.25,30.3L638.62,38.97L648.99,53.07L659.36,66.92L669.73,80.54L680.1,93.93L680.1,30.3L431.2,30.3Z" fill="#ff7d00"/>
<path d="M431.2,30.3L441.57,30.3L451.94,30.3L462.31,30.3L472.68,30.3L483.05,30.3L493.43,30.3L503.8,30.3L514.17,30.3L524.54,30.3L534.91,30.3L545.28,30.3L555.65,30.3L566.02,30.3L576.39,30.3L586.76,30.3L597.13,30.3L607.5,30.3L617.88,30.3L628.25,30.3L638.62,36.22L648.99,50.34L659.36,64.21L669.73,77.85L680.1,91.26L680.1,30.3L431.2,30.3Z" fill="#ff7800"/>
<path d="M431.2,30.3L441.57,30.3L451.94,30.3L462.31,30.3L472.68,30.3L483.05,30.3L493.43,30.3L503.8,30.3L514.17,30.3L524.54,30.3L534.91,30.3L545.28,30.3L555.65,30.3L566.02,30.3L576.39,30.3L586.76,30.3L597.13,30.3L607.5,30.3L617.88,30.3L628.25,30.3L638.62,33.47L648.99,47.61L659.36,61.5L669.73,75.16L680.1,88.59L680.1,30.3L431.2,30.3Z" fill="#ff7200"/>
<path d="M431.2,30.3L441.57,30.3L451.94,30.3L462.31,30.3L472.68,30.3L483.05,30.3L493.43,30.3L503.8,30.3L514.17,30.3L524.54,30.3L534.91,30.3L545.28,30.3L555.65,30.3L566.02,30.3L576.39,30.3L586.76,30.3L597.13,30.3L607.5,30.3L617.88,30.3L628.25,30.3L638.62,30.72L648.99,44.88L659.36,58.8L669.73,72.48L680.1,85.93L680.1,30.3L431.2,30.3Z" fill="#ff6d00"/>
<path d="M431.2,30.3L441.57,30.3L451.94,30.3L462.31,30.3L472.68,30.3L483.05,30.3L493.43,30.3L503.8,30.3L514.17,30.3L524.54,30.3L534.91,30.3L545.28,30.3L555.65,30.3L566.02,30.3L576.39,30.3L586.76,30.3L597.13,30.3L607.5,30.3L617.88,30.3L628.25,30.3L638.62,30.3L648.99,42.15L659.36,56.09L669.73,69.79L680.1,83.26L680.1,30.3L431.2,30.3Z" fill="#ff6800"/>
<path d="M431.2,30.3L441.57,30.3L451.94,30.3L462.31,30.3L472.68,30.3L483.05,30.3L493.43,30.3L503.8,30.3L514.17,30.3L524.54,30.3L534.91,30.3L545.28,30.3L555.65,30.3L566.02,30.3L576.39,30.3L586.76,30.3L597.13,30.3L607.5,30.3L617.88,30.3L628.25,30.3L638.62,30.3L648.99,39.43L659.36,53.39L669.73,67.11L680.1,80.6L680.1,30.3L431.2,30.3Z" fill="#ff6200"/>
<path d="M431.2,30.3L441.57,30.3L451.94,30.3L462.31,30.3L472.68,30.3L483.05,30.3L493.43,30.3L503.8,30.3L514.17,30.3L524.54,30.3L534.91,30.3L545.28,30.3L555.65,30.3L566.02,30.3L576.39,30.3L586.76,30.3L597.13,30.3L607.5,30.3L617.88,30.3L628.25,30.3L638.62,30.3L648.99,36.71L659.36,50.69L669.73,64.43L680.1,77.94L680.1,30.3L431.2,30.3Z" fill="#ff5d00"/>
<path d="M431.2,30.3L441.57,30.3L451.94,30.3L462.31,30.3L472.68,30.3L483.05,30.3L493.43,30.3L503.8,30.3L514.17,30.3L524.54,30.3L534.91,30.3L545.28,30.3L555.65,30.3L566.02,30.3L576.39,30.3L586.76,30.3L597.13,30.3L607.5,30.3L617.88,30.3L628.25,30.3L638.62,30.3L648.99,33.99L659.36,47.99L669.73,61.75L680.1,75.28L680.1,30.3L431.2,30.3Z" fill="#ff5800"/>
<path d="M431.2,30.3L441.57,30.3L451.94,30.3L462.31,30.3L472.68,30.3L483.05,30.3L493.43,30.3L503.8,30.3L514.17,30.3L524.54,30.3L534.91,30.3L545.28,30.3L555.65,30.3L566.02,30.3L576.39,30.3L586.76,30.3L597.13,30.3L607.5,30.3L617.88,30.3L628.25,30.3L638.62,30.3L648.99,31.27L659.36,45.29L669.73,59.07L680.1,72.62L680.1,30.3L431.2,30.3Z" fill="#ff5200"/>
<path d="M431.2,30.3L441.57,30.3L451.94,30.3L462.31,30.3L472.68,30.3L483.05,30.3L493.43,30.3L503.8,30.3L514.17,30.3L524.54,30.3L534.91,30.3L545.28,30.3L555.65,30.3L566.02,30.3L576.39,30.3L586.76,30.3L597.13,30.3L607.5,30.3L617.88,30.3L628.25,30.3L638.62,30.3L648.99,30.3L659.36,42.59L669.73,56.39L680.1,69.96L680.1,30.3L431.2,30.3Z" fill="#ff4d00"/>
<path d="M431.2,30.3L441.57,30.3L451.94,30.3L462.31,30.3L472.68,30.3L483.05,30.3L493.43,30.3L503.8,30.3L514.17,30.3L524.54,30.3L534.91,30.3L545.28,30.3L555.65,30.3L566.02,30.3L576.39,30.3L586.76,30.3L597.13,30.3L607.5,30.3L617.88,30.3L628.25,30.3L638.62,30.3L648.99,30.3L659.36,39.9L669.73,53.72L680.1,67.31L680.1,30.3L431.2,30.3Z" fill="#ff4800"/>
<path d="M431.2,30.3L441.57,30.3L451.94,30.3L462.31,30.3L472.68,30.3L483.05,30.3L493.43,30.3L503.8,30.3L514.17,30.3L524.54,30.3L534.91,30.3L545.28,30.3L555.65,30.3L566.02,30.3L576.39,30.3L586.76,30.3L597.13,30.3L607.5,30.3L617.88,30.3L628.25,30.3L638.62,30.3L648.99,30.3L659.36,37.2L669.73,51.04L680.1,64.65L680.1,30.3L431.2,30.3Z" fill="#ff4200"/>
<path d="M431.2,30.3L441.57,30.3L451.94,30.3L462.31,30.3L472.68,30.3L483.05,30.3L493.43,30.3L503.8,30.3L514.17,30.3L524.54,30.3L534.91,30.3L545.28,30.3L555.65,30.3L566.02,30.3L576.39,30.3L586.76,30.3L597.13,30.3L607.5,30.3L617.88,30.3L628.25,30.3L638.62,30.3L648.99,30.3L659.36,34.51L669.73,48.37L680.1,62L680.1,30.3L431.2,30.3Z" fill="#ff3d00"/>
<path d="M431.2,30.3L441.57,30.3L451.94,30.3L462.31,30.3L472.68,30.3L483.05,30.3L493.43,30.3L503.8,30.3L514.17,30.3L524.54,30.3L534.91,30.3L545.28,30.3L555.65,30.3L566.02,30.3L576.39,30.3L586.76,30.3L597.13,30.3L607.5,30.3L617.88,30.3L628.25,30.3L638.62,30.3L648.99,30.3L659.36,31.82L669.73,45.7L680.1,59.35L680.1,30.3L431.2,30.3Z" fill="#ff3800"/>
<path d="M431.2,30.3L441.57,30.3L451.94,30.3L462.31,30.3L472.68,30.3L483.05,30.3L493.43,30.3L503.8,30.3L514.17,30.3L524.54,30.3L534.91,30.3L545.28,30.3L555.65,30.3L566.02,30.3L576.39,30.3L586.76,30.3L597.13,30.3L607.5,30.3L617.88,30.3L628.25,30.3L638.62,30.3L648.99,30.3L659.36,30.3L669.73,43.03L680.1,56.7L680.1,30.3L431.2,30.3Z" fill="#ff3200"/>
<path d="M431.2,30.3L441.57,30.3L451.94,30.3L462.31,30.3L472.68,30.3L483.05,30.3L493.43,30.3L503.8,30.3L514.17,30.3L524.54,30.3L534.91,30.3L545.28,30.3L555.65,30.3L566.02,30.3L576.39,30.3L586.76,30.3L597.13,30.3L607.5,30.3L617.88,30.3L628.25,30.3L638.62,30.3L648.99,30.3L659.36,30.3L669.73,40.37L680.1,54.05L680.1,30.3L431.2,30.3Z" fill="#ff2d00"/>
<path d="M431.2,30.3L441.57,30.3L451.94,30.3L462.31,30.3L472.68,30.3L483.05,30.3L493.43,30.3L503.8,30.3L514.17,30.3L524.54,30.3L534.91,30.3L545.28,30.3L555.65,30.3L566.02,30.3L576.39,30.3L586.76,30.3L597.13,30.3L607.5,30.3L617.88,30.3L628.25,30.3L638.62,30.3L648.99,30.3L659.36,30.3L669.73,37.7L680.1,51.41L680.1,30.3L431.2,30.3Z" fill="#ff2800"/>
<path d="M431.2,30.3L441.57,30.3L451.94,30.3L462.31,30.3L472.68,30.3L483.05,30.3L493.43,30.3L503.8,30.3L514.17,30.3L524.54,30.3L534.91,30.3L545.28,30.3L555.65,30.3L566.02,30.3L576.39,30.3L586.76,30.3L597.13,30.3L607.5,30.3L617.88,30.3L628.25,30.3L638.62,30.3L648.99,30.3L659.36,30.3L669.73,35.04L680.1,48.76L680.1,30.3L431.2,30.3Z" fill="#ff2300"/>
<path d="M431.2,30.3L441.57,30.3L451.94,30.3L462.31,30.3L472.68,30.3L483.05,30.3L493.43,30.3L503.8,30.3L514.17,30.3L524.54,30.3L534.91,30.3L545.28,30.3L555.65,30.3L566.02,30.3L576.39,30.3L586.76,30.3L597.13,30.3L607.5,30.3L617.88,30.3L628.25,30.3L638.62,30.3L648.99,30.3L659.36,30.3L669.73,32.38L680.1,46.12L680.1,30.3L431.2,30.3Z" fill="#ff1d00"/>
<path d="M431.2,30.3L441.57,30.3L451.94,30.3L462.31,30.3L472.68,30.3L483.05,30.3L493.43,30.3L503.8,30.3L514.17,30.3L524.54,30.3L534.91,30.3L545.28,30.3L555.65,30.3L566.02,30.3L576.39,30.3L586.76,30.3L597.13,30.3L607.5,30.3L617.88,30.3L628.25,30.3L638.62,30.3L648.99,30.3L659.36,30.3L669.73,30.3L680.1,43.48L680.1,30.3L431.2,30.3Z" fill="#ff1800"/>
<path d="M431.2,30.3L441.57,30.3L451.94,30.3L462.31,30.3L472.68,30.3L483.05,30.3L493.43,30.3L503.8,30.3L514.17,30.3L524.54,30.3L534.91,30.3L545.28,30.3L555.65,30.3L566.02,30.3L576.39,30.3L586.76,30.3L597.13,30.3L607.5,30.3L617.88,30.3L628.25,30.3L638.62,30.3L648.99,30.3L659.36,30.3L669.73,30.3L680.1,40.84L680.1,30.3L431.2,30.3Z" fill="#ff1300"/>
<path d="M431.2,30.3L441.57,30.3L451.94,30.3L462.31,30.3L472.68,30.3L483.05,30.3L493.43,30.3L503.8,30.3L514.17,30.3L524.54,30.3L534.91,30.3L545.28,30.3L555.65,30.3L566.02,30.3L576.39,30.3L586.76,30.3L597.13,30.3L607.5,30.3L617.88,30.3L628.25,30.3L638.62,30.3L648.99,30.3L659.36,30.3L669.73,30.3L680.1,38.2L680.1,30.3L431.2,30.3Z" fill="#ff0d00"/>
<path d="M431.2,30.3L441.57,30.3L451.94,30.3L462.31,30.3L472.68,30.3L483.05,30.3L493.43,30.3L503.8,30.3L514.17,30.3L524.54,30.3L534.91,30.3L545.28,30.3L555.65,30.3L566.02,30.3L576.39,30.3L586.76,30.3L597.13,30.3L607.5,30.3L617.88,30.3L628.25,30.3L638.62,30.3L648.99,30.3L659.36,30.3L669.73,30.3L680.1,35.57L680.1,30.3L431.2,30.3Z" fill="#ff0800"/>
<path d="M431.2,30.3L441.57,30.3L451.94,30.3L462.31,30.3L472.68,30.3L483.05,30.3L493.43,30.3L503.8,30.3L514.17,30.3L524.54,30.3L534.91,30.3L545.28,30.3L555.65,30.3L566.02,30.3L576.39,30.3L586.76,30.3L597.13,30.3L607.5,30.3L617.88,30.3L628.25,30.3L638.62,30.3L648.99,30.3L659.36,30.3L669.73,30.3L680.1,32.93L680.1,30.3L431.2,30.3Z" fill="#ff0300"/>
<path d="M431.2,80.8L433.69,84.97L436.18,89.11L438.67,93.24L441.16,97.34L443.64,101.42L446.13,105.48L448.62,109.52L451.11,113.54L453.6,117.53L456.09,121.51L458.58,125.47L461.07,129.4L463.56,133.32L466.05,137.22L468.53,141.09L471.02,144.95L473.51,148.79L476,152.61L478.49,156.4L480.98,160.18L483.47,163.94L485.96,167.69L488.45,171.41L490.94,175.11L493.43,178.8L495.91,182.46L498.4,186.11L500.89,189.74L503.38,193.35L505.87,196.95L508.36,200.52L510.85,204.08L513.34,207.62L515.83,211.15L518.32,214.65L520.8,218.14L523.29,221.61L525.78,225.06L528.27,228.5L530.76,231.92L533.25,235.32L535.74,238.71L538.23,242.08L540.72,245.43L543.21,248.77L545.69,252.09L548.18,255.4L550.67,258.68L553.16,261.96L555.65,265.21L558.14,268.45L560.63,271.68L563.12,274.89L565.61,278.08" stroke="#1a1a1a" stroke-width="0.9" fill="none"/>
<path d="M518.32,32.58L520.8,36.44L523.29,40.28L525.78,44.1L528.27,47.9L530.76,51.69L533.25,55.46L535.74,59.21L538.23,62.95L540.72,66.66L543.21,70.36L545.69,74.05L548.18,77.72L550.67,81.37L553.16,85L555.65,88.62L558.14,92.22L560.63,95.8L563.12,99.37L565.61,102.92L568.1,106.45L570.58,109.97L573.07,113.48L575.56,116.97L578.05,120.44L580.54,123.89L583.03,127.34L585.52,130.76L588.01,134.17L590.5,137.57L592.99,140.95L595.47,144.31L597.96,147.66L600.45,151L602.94,154.32L605.43,157.62L607.92,160.91L610.41,164.19L612.9,167.45L615.39,170.7L617.88,173.93L620.36,177.15L622.85,180.35L625.34,183.54L627.83,186.72L630.32,189.88L632.81,193.03L635.3,196.17L637.79,199.29L640.28,202.4L642.76,205.49L645.25,208.57L647.74,211.64L650.23,214.7L652.72,217.74L655.21,220.77L657.7,223.78L660.19,226.78L662.68,229.77L665.17,232.75L667.65,235.71L670.14,238.66L672.63,241.6L675.12,244.53L677.61,247.44L680.1,250.34" stroke="#1a1a1a" stroke-width="0.9" fill="none"/>
<path d="M630.32,30.35L632.81,33.79L635.3,37.23L637.79,40.64L640.28,44.05L642.76,47.44L645.25,50.82L647.74,54.18L650.23,57.53L652.72,60.86L655.21,64.18L657.7,67.49L660.19,70.79L662.68,74.07L665.17,77.33L667.65,80.59L670.14,83.83L672.63,87.05L675.12,90.27L677.61,93.47L680.1,96.66" stroke="#1a1a1a" stroke-width="0.9" fill="none"/>
<rect x="431.2" y="30.3" width="248.9" height="248.9" fill="none" stroke="#333" stroke-width="1"/>
<path d="M425.3,30.3H431.2M431.2,279.2V284.9M425.3,80.08H431.2M480.98,279.2V284.9M425.3,129.86H431.2M530.76,279.2V284.9M425.3,179.64H431.2M580.54,279.2V284.9M425.3,229.42H431.2M630.32,279.2V284.9M425.3,279.2H431.2M680.1,279.2V284.9" stroke="#333" stroke-width="0.8"/>
<rect x="491.3" y="174.4" width="9.6" height="8.2" fill="#fff" stroke="#333" stroke-width="0.7"/>
<text x="496.1" y="180.7" font-size="6.2" text-anchor="middle" fill="#333" font-family="Liberation Sans, sans-serif">10</text>
<rect x="589.7" y="137.1" width="9.6" height="8.2" fill="#fff" stroke="#333" stroke-width="0.7"/>
<text x="594.5" y="143.4" font-size="6.2" text-anchor="middle" fill="#333" font-family="Liberation Sans, sans-serif">15</text>
<rect x="649.7" y="56.5" width="9.6" height="8.2" fill="#fff" stroke="#333" stroke-width="0.7"/>
<text x="654.5" y="62.8" font-size="6.2" text-anchor="middle" fill="#333" font-family="Liberation Sans, sans-serif">20</text>
<rect x="624.8" y="40" width="55" height="9.3" fill="#fff" stroke="#888" stroke-width="0.8"/>
<text x="626.6" y="47" font-size="6.6" fill="#222" font-family="Liberation Sans, sans-serif" textLength="26.6" lengthAdjust="spacingAndGlyphs">Prediction</text>
<text x="678.2" y="47" font-size="6.6" fill="#222" text-anchor="end" font-family="Liberation Sans, sans-serif" textLength="20.8" lengthAdjust="spacingAndGlyphs">22.2189</text>
<circle cx="431.2" cy="30.3" r="2.6" fill="#c00000" stroke="#700000" stroke-width="0.7"/>
<circle cx="431.2" cy="279.2" r="2.6" fill="#c00000" stroke="#700000" stroke-width="0.7"/>
<circle cx="680.1" cy="279.2" r="2.6" fill="#c00000" stroke="#700000" stroke-width="0.7"/>
<circle cx="680.1" cy="30.3" r="2.5" fill="#aaa" stroke="#333" stroke-width="1.5"/>
<g font-family="Liberation Sans, sans-serif" fill="#333" font-size="5.9">
<text x="423.5" y="28.9" text-anchor="end">343</text>
<text x="423.5" y="78.68" text-anchor="end">334</text>
<text x="423.5" y="128.46" text-anchor="end">325</text>
<text x="423.5" y="178.24" text-anchor="end">316</text>
<text x="423.5" y="228.02" text-anchor="end">307</text>
<text x="423.5" y="277.8" text-anchor="end">298</text>
<text x="431.2" y="292.9" text-anchor="middle">0.75</text>
<text x="480.98" y="292.9" text-anchor="middle">1</text>
<text x="530.76" y="292.9" text-anchor="middle">1.25</text>
<text x="580.54" y="292.9" text-anchor="middle">1.5</text>
<text x="630.32" y="292.9" text-anchor="middle">1.75</text>
<text x="680.1" y="292.9" text-anchor="middle">2</text>
</g>
<text x="534.5" y="26.4" font-size="8.5" fill="#2a2a2a" font-family="Liberation Sans, sans-serif" textLength="41.4" lengthAdjust="spacingAndGlyphs">REE (mg/L)</text>
<text x="498.8" y="310.9" font-size="7.6" fill="#2a2a2a" font-family="Liberation Sans, sans-serif" textLength="112" lengthAdjust="spacingAndGlyphs">A: Leachant Concentration (mol/L)</text>
<text transform="translate(391.6,154.8) rotate(-90)" font-size="7.2" text-anchor="middle" fill="#2a2a2a" font-family="Liberation Sans, sans-serif" textLength="36.5" lengthAdjust="spacingAndGlyphs">B: Temp (k)</text>
<text x="376.2" y="46.8" font-family="Liberation Serif, serif" font-weight="bold" font-size="16" fill="#000" stroke="#000" stroke-width="0.2">(b)</text>
<path d="M377.3,12V318" stroke="#f4f4f4" stroke-width="1"/>
<path d="M339.7,0V318" stroke="#fcfcfc" stroke-width="1"/>
</svg>
</body></html>
